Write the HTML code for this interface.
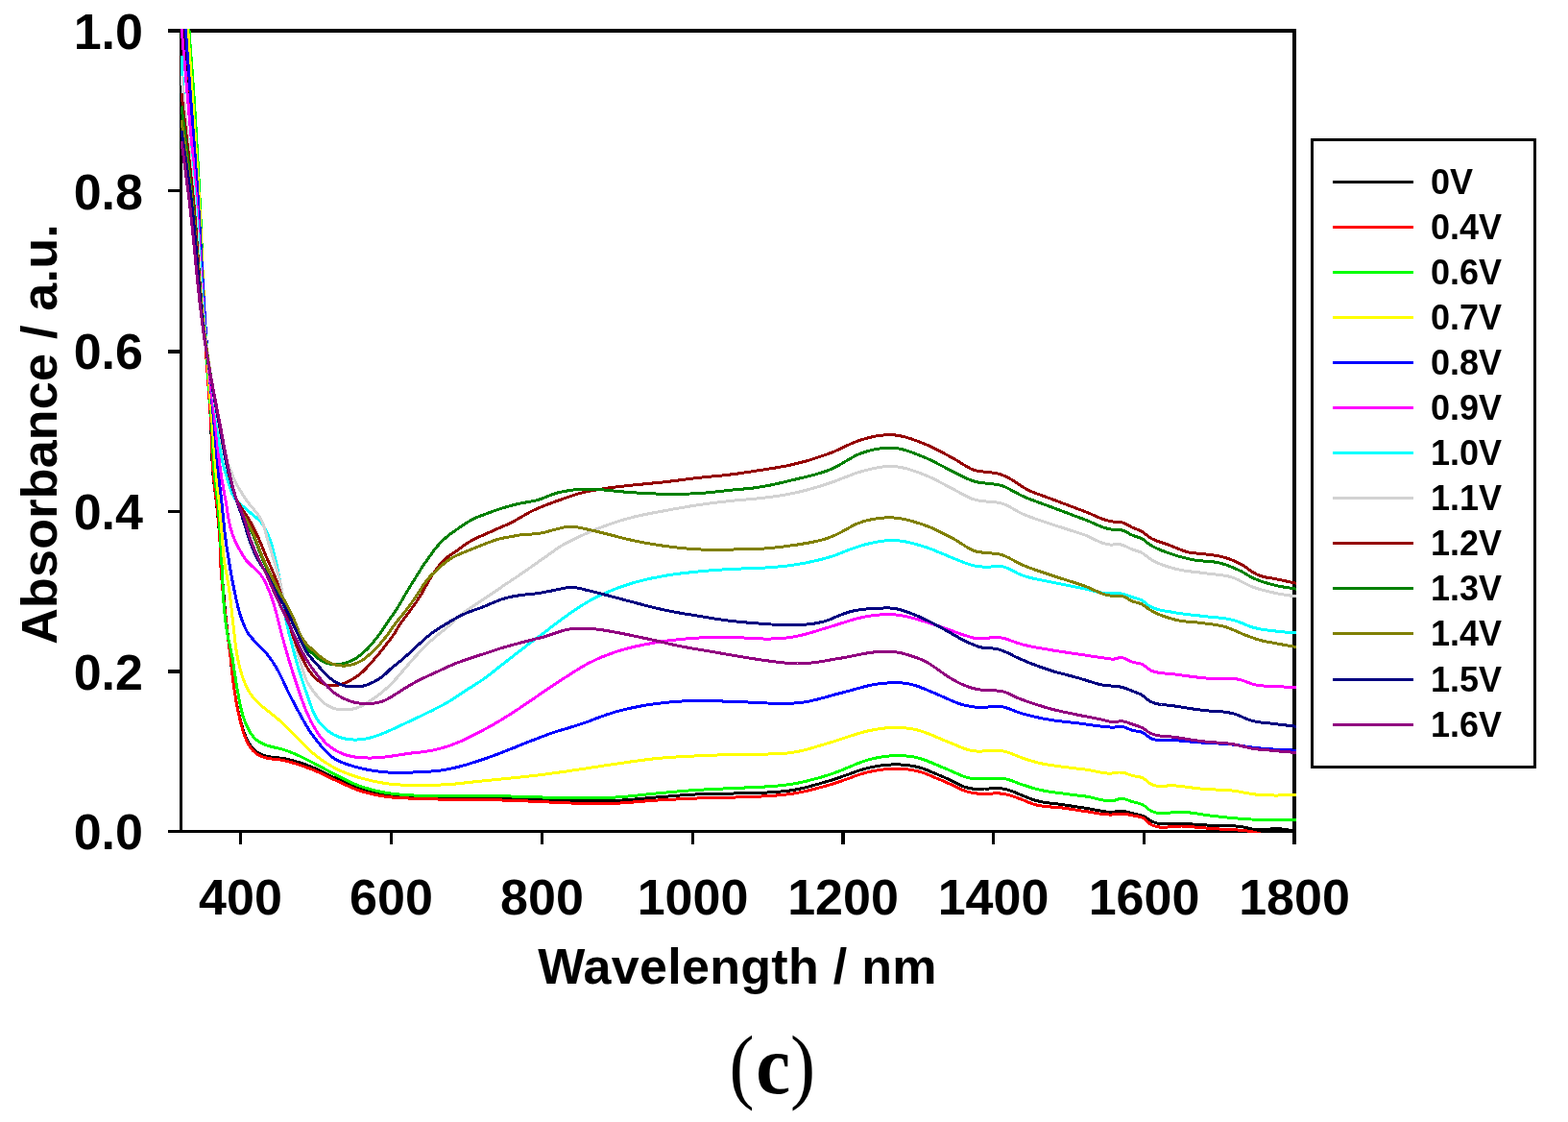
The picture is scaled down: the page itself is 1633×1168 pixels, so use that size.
<!DOCTYPE html>
<html><head><meta charset="utf-8"><title>Absorbance spectra (c)</title>
<style>
html,body{margin:0;padding:0;background:#fff;}
body{width:1633px;height:1168px;overflow:hidden;position:relative;}
svg{position:absolute;left:0;top:0;display:block;}
.t{font-family:"Liberation Sans",Arial,sans-serif;font-weight:bold;fill:#000;}
</style></head>
<body>
<svg width="1633" height="1168" viewBox="0 0 1633 1168">
<defs><clipPath id="pc"><rect x="187" y="30" width="1163" height="837"/></clipPath></defs>
<g fill="#000" shape-rendering="crispEdges">
<rect x="175" y="30" width="1175" height="4"/>
<rect x="175" y="864" width="1175" height="3"/>
<rect x="187" y="30" width="3" height="837"/>
<rect x="1346" y="30" width="4" height="849"/>
<rect x="175" y="197" width="13" height="3"/>
<rect x="175" y="364" width="13" height="4"/>
<rect x="175" y="531" width="13" height="3"/>
<rect x="175" y="697" width="13" height="4"/>
<rect x="249" y="866" width="3" height="13"/>
<rect x="406" y="866" width="3" height="13"/>
<rect x="563" y="866" width="3" height="13"/>
<rect x="720" y="866" width="3" height="13"/>
<rect x="876" y="866" width="4" height="13"/>
<rect x="1033" y="866" width="3" height="13"/>
<rect x="1190" y="866" width="3" height="13"/>
</g>
<g clip-path="url(#pc)" fill="none" stroke-width="3" stroke-linejoin="round" stroke-linecap="butt" shape-rendering="crispEdges">
<path d="M190.2 12.0 190.5 16.0 190.8 20.0 191.0 24.0 191.3 28.0 191.6 32.0 191.9 36.0 192.2 40.0 192.4 44.0 192.7 48.0 193.0 52.0 193.2 56.0 193.5 60.0 193.8 64.0 194.1 68.0 194.3 72.0 194.6 76.0 194.9 80.0 195.2 84.0 195.5 88.0 195.8 92.0 196.1 96.0 196.4 100.0 196.8 104.0 197.1 108.0 197.4 112.0 197.8 116.0 198.1 120.0 198.5 124.0 198.8 128.0 199.2 132.0 199.5 136.0 199.9 140.0 200.2 144.0 200.6 148.0 201.0 152.0 201.3 156.0 201.7 160.0 202.0 164.0 202.4 168.0 202.7 172.0 203.1 176.0 203.4 180.0 203.7 184.0 204.1 188.0 204.4 192.0 204.7 196.0 205.0 200.0 205.3 204.0 205.6 208.0 205.9 212.0 206.2 216.0 206.4 220.0 206.7 224.0 207.0 228.0 207.2 232.0 207.5 236.0 207.7 240.0 208.0 244.0 208.2 248.0 208.5 252.0 208.7 256.0 209.0 260.0 209.2 264.0 209.4 268.0 209.7 272.0 209.9 276.0 210.1 280.0 210.4 284.0 210.6 288.0 210.8 292.0 211.0 296.0 211.2 300.0 211.5 304.0 211.7 308.0 211.9 312.0 212.1 316.0 212.4 320.0 212.6 324.0 212.8 328.0 213.0 332.0 213.2 336.0 213.5 340.0 213.7 344.0 213.9 348.0 214.2 352.0 214.4 356.0 214.6 360.0 214.9 364.0 215.1 368.0 215.4 372.0 215.6 376.0 215.9 380.0 216.1 384.0 216.4 388.0 216.6 392.0 216.9 396.0 217.1 400.0 217.4 404.0 217.6 408.0 217.9 412.0 218.1 416.0 218.3 420.0 218.6 424.0 218.8 428.0 219.1 432.0 219.3 436.0 219.5 440.0 219.7 444.0 219.9 448.0 220.0 452.0 220.2 456.0 220.3 460.0 220.4 464.0 220.6 468.0 220.7 472.0 220.8 476.0 221.0 480.0 221.2 484.0 221.5 488.0 221.8 492.0 222.1 496.0 222.5 500.0 223.0 504.0 223.5 508.0 224.0 512.0 224.5 516.0 225.0 520.0 225.5 524.0 225.9 528.0 226.3 532.0 226.7 536.0 227.1 540.0 227.5 544.0 227.8 548.0 228.2 552.0 228.5 556.0 228.8 560.0 229.1 564.0 229.3 568.0 229.5 572.0 229.8 576.0 230.0 580.0 230.3 584.0 230.5 588.0 230.8 592.0 231.1 596.0 231.4 600.0 231.7 603.9 232.0 607.9 232.4 611.9 232.7 615.9 233.1 619.9 233.4 623.9 233.8 627.9 234.1 631.9 234.5 635.8 234.9 639.8 235.3 643.8 235.7 647.8 236.2 651.8 236.6 655.7 237.1 659.7 237.5 663.7 238.0 667.8 238.5 671.9 239.0 675.9 239.5 680.0 240.0 684.1 240.4 688.2 240.8 692.2 241.3 696.3 241.7 700.4 242.2 704.5 242.7 708.5 243.2 712.6 243.8 716.6 244.4 720.7 245.1 724.8 245.8 728.8 246.5 732.9 247.3 737.0 248.2 741.0 249.1 745.0 250.1 749.0 251.2 753.0 252.4 757.0 253.6 760.9 255.1 764.8 256.7 768.6 258.5 772.2 260.7 775.7 263.1 778.9 266.7 782.2 270.2 784.4 274.2 786.2 278.1 787.4 282.0 788.1 286.0 788.5 290.1 788.9 294.2 789.4 298.3 790.1 302.4 791.1 306.5 792.2 310.5 793.4 314.4 794.6 318.2 795.9 322.0 797.4 325.8 798.9 329.5 800.5 333.1 802.1 336.7 803.9 340.3 805.6 343.9 807.4 347.5 809.2 351.1 810.9 354.8 812.6 358.6 814.4 362.3 816.0 366.1 817.7 369.9 819.2 373.7 820.6 377.5 821.8 381.3 823.0 385.2 824.0 389.2 825.0 393.1 825.8 397.0 826.6 401.0 827.2 405.0 827.8 409.1 828.2 413.1 828.5 417.2 828.8 421.3 829.0 425.4 829.2 429.5 829.4 433.5 829.6 437.6 829.7 441.7 829.9 445.7 830.0 449.8 830.1 453.9 830.2 458.0 830.3 462.0 830.3 466.1 830.4 470.2 830.5 474.3 830.5 478.4 830.6 482.5 830.6 486.6 830.7 490.7 830.7 494.8 830.8 498.9 830.9 502.9 830.9 507.0 831.0 511.0 831.1 515.1 831.1 519.2 831.2 523.2 831.3 527.3 831.3 531.3 831.4 535.4 831.5 539.5 831.6 543.5 831.7 547.6 831.8 551.6 831.9 555.7 832.0 559.7 832.1 563.7 832.3 567.7 832.4 571.8 832.6 575.8 832.7 579.8 832.8 583.9 833.0 587.9 833.1 591.9 833.2 596.0 833.3 600.0 833.4 604.0 833.5 608.0 833.5 612.1 833.6 616.1 833.6 620.1 833.7 624.1 833.7 628.1 833.7 632.2 833.6 636.2 833.6 640.2 833.4 644.2 833.3 648.2 833.0 652.2 832.8 656.2 832.4 660.2 832.1 664.3 831.7 668.3 831.4 672.3 831.0 676.3 830.6 680.3 830.3 684.3 829.9 688.3 829.6 692.3 829.3 696.3 829.0 700.3 828.6 704.3 828.3 708.4 828.0 712.4 827.7 716.4 827.5 720.4 827.2 724.4 827.0 728.4 826.8 732.4 826.7 736.4 826.6 740.4 826.5 744.4 826.4 748.5 826.3 752.5 826.3 756.5 826.2 760.5 826.1 764.5 826.0 768.5 825.9 772.6 825.9 776.7 825.8 780.7 825.7 784.8 825.6 788.8 825.5 792.9 825.3 796.9 825.1 801.0 824.9 805.2 824.6 809.3 824.3 813.5 824.0 817.7 823.6 821.8 823.1 825.8 822.5 829.7 821.8 833.6 821.0 837.5 820.1 841.4 819.1 845.3 818.1 849.2 817.0 853.1 815.9 856.9 814.8 860.8 813.7 864.6 812.6 868.5 811.4 872.3 810.1 876.0 808.8 879.8 807.4 883.6 806.1 887.4 804.7 891.2 803.3 895.0 802.0 899.7 800.6 904.5 799.4 909.4 798.3 913.4 797.6 917.5 797.0 921.6 796.5 925.7 796.1 929.8 795.9 933.9 795.9 938.0 796.0 942.1 796.2 946.2 796.7 950.2 797.3 954.1 798.1 958.9 799.4 962.7 800.6 966.5 802.1 970.2 803.6 974.0 805.2 977.7 806.8 981.4 808.3 985.1 810.0 988.8 811.7 992.5 813.5 996.2 815.4 999.9 817.1 1003.5 818.8 1008.3 820.3 1013.2 821.1 1017.3 821.2 1021.5 821.1 1025.7 821.0 1029.9 821.0 1034.1 820.8 1038.3 820.7 1042.5 820.8 1046.6 821.4 1051.4 822.7 1055.1 824.1 1058.9 825.7 1062.6 827.3 1066.4 828.7 1070.1 830.3 1073.8 831.7 1077.6 833.0 1081.6 834.0 1085.6 834.9 1089.6 835.5 1093.7 836.1 1097.8 836.6 1101.9 837.0 1106.0 837.6 1110.0 838.2 1114.1 838.8 1118.1 839.4 1122.2 840.0 1126.2 840.6 1130.3 841.2 1134.3 841.8 1138.3 842.6 1142.3 843.4 1146.2 844.1 1150.2 844.8 1154.2 845.2 1159.2 845.2 1163.7 844.6 1168.1 844.1 1172.1 844.7 1176.0 845.8 1180.0 846.9 1184.3 847.8 1188.5 848.8 1192.3 850.4 1195.8 852.6 1199.3 854.9 1203.0 856.5 1207.8 857.6 1211.8 857.9 1216.0 857.9 1220.2 857.7 1224.4 857.5 1228.6 857.3 1232.7 857.4 1236.8 857.7 1240.9 857.9 1244.9 858.2 1249.0 858.5 1253.1 858.8 1257.2 859.0 1261.2 859.3 1265.3 859.6 1269.4 859.7 1273.5 859.7 1277.6 859.7 1281.7 859.8 1285.8 859.9 1289.9 860.2 1293.9 860.7 1298.0 861.6 1302.2 862.7 1306.4 863.7 1311.4 864.0 1315.4 863.8 1319.5 863.4 1323.5 863.0 1327.6 862.7 1331.6 862.8 1335.7 863.1 1339.8 863.7 1343.9 864.3 1347.9 864.9 1352.0 865.5" stroke="#000000"/>
<path d="M192.2 12.0 192.5 16.0 192.8 20.0 193.1 24.0 193.3 28.0 193.6 32.0 193.9 36.0 194.1 40.0 194.4 44.0 194.7 48.0 195.0 52.0 195.2 56.0 195.5 60.0 195.8 64.0 196.0 68.0 196.3 72.0 196.6 76.0 196.8 80.0 197.1 84.0 197.4 88.0 197.7 92.0 198.0 96.0 198.2 100.0 198.5 104.0 198.8 108.0 199.1 112.0 199.4 116.0 199.7 120.0 200.0 124.0 200.3 128.0 200.6 132.0 200.9 136.0 201.2 140.0 201.5 144.0 201.8 148.0 202.1 152.0 202.4 156.0 202.7 160.0 203.0 164.0 203.3 168.0 203.6 172.0 203.9 176.0 204.1 180.0 204.4 184.0 204.7 188.0 205.0 192.0 205.2 196.0 205.5 200.0 205.8 204.0 206.0 208.0 206.3 212.0 206.5 216.0 206.7 220.0 207.0 224.0 207.2 228.0 207.4 232.0 207.6 236.0 207.8 240.0 208.1 244.0 208.3 248.0 208.5 252.0 208.7 256.0 208.9 260.0 209.1 264.0 209.3 268.0 209.5 272.0 209.7 276.0 209.9 280.0 210.1 284.0 210.3 288.0 210.5 292.0 210.7 296.0 210.8 300.0 211.0 304.0 211.2 308.0 211.5 312.0 211.7 316.0 211.9 320.0 212.1 324.0 212.3 328.0 212.5 332.0 212.7 336.0 212.9 340.0 213.2 344.0 213.4 348.0 213.6 352.0 213.9 356.0 214.1 360.0 214.4 364.0 214.6 368.0 214.9 372.0 215.2 376.0 215.4 380.0 215.7 384.0 216.0 388.0 216.3 392.0 216.6 396.0 216.9 400.0 217.2 404.0 217.4 408.0 217.7 412.0 218.0 416.0 218.3 420.0 218.6 424.0 218.8 428.0 219.1 432.0 219.4 436.0 219.6 440.0 219.8 444.0 220.0 448.0 220.2 452.0 220.4 456.0 220.5 460.0 220.7 464.0 220.8 468.0 221.0 472.0 221.1 476.0 221.3 480.0 221.5 484.0 221.8 488.0 222.1 492.0 222.4 496.0 222.8 500.0 223.2 504.0 223.7 508.0 224.2 512.0 224.7 516.0 225.2 520.0 225.6 524.0 226.1 528.0 226.5 532.0 226.9 536.0 227.3 540.0 227.7 544.0 228.0 548.0 228.3 552.0 228.6 556.0 228.8 560.0 229.0 564.0 229.1 568.0 229.2 572.0 229.3 576.0 229.4 580.0 229.6 584.0 229.8 588.0 230.1 592.0 230.3 596.0 230.6 600.0 231.0 604.0 231.3 608.0 231.7 611.9 232.1 615.9 232.5 619.9 232.9 623.9 233.3 627.9 233.8 631.9 234.2 635.8 234.7 639.8 235.2 643.8 235.6 647.8 236.1 651.8 236.6 655.7 237.0 659.7 237.5 663.7 238.0 667.8 238.5 671.9 239.0 675.9 239.5 680.0 240.0 684.1 240.4 688.1 240.9 692.2 241.3 696.3 241.7 700.4 242.2 704.5 242.7 708.5 243.2 712.6 243.8 716.7 244.4 720.7 245.1 724.7 245.7 728.6 246.4 732.6 247.1 736.6 247.9 740.5 248.8 744.4 249.7 748.3 250.7 752.2 251.7 756.1 252.8 760.2 254.1 764.2 255.5 768.0 257.1 771.7 259.0 775.3 261.3 778.7 263.8 781.7 267.5 784.8 271.1 786.8 275.1 788.4 279.1 789.4 283.0 790.0 287.1 790.5 291.1 790.9 295.2 791.6 299.3 792.5 303.4 793.7 307.5 794.9 311.5 796.2 315.3 797.4 319.1 798.8 322.9 800.2 326.7 801.7 330.5 803.3 334.3 805.0 338.0 806.8 341.8 808.6 345.5 810.4 349.3 812.2 353.0 813.9 356.7 815.6 360.4 817.3 364.2 819.0 368.0 820.6 371.8 822.1 375.6 823.4 379.4 824.6 383.3 825.6 387.2 826.6 391.1 827.4 395.1 828.2 399.0 828.8 403.0 829.4 407.1 829.9 411.1 830.2 415.2 830.5 419.3 830.7 423.4 830.9 427.4 831.1 431.5 831.3 435.6 831.5 439.6 831.6 443.7 831.7 447.8 831.9 451.9 831.9 455.9 832.0 460.0 832.1 464.1 832.1 468.2 832.2 472.3 832.2 476.4 832.2 480.5 832.2 484.6 832.2 488.7 832.2 492.8 832.2 496.8 832.2 500.9 832.3 505.0 832.4 509.0 832.5 513.1 832.6 517.1 832.8 521.2 832.9 525.2 833.1 529.3 833.2 533.4 833.4 537.4 833.5 541.5 833.7 545.5 833.8 549.6 834.0 553.6 834.2 557.7 834.4 561.7 834.5 565.8 834.7 569.8 834.9 573.8 835.1 577.9 835.3 581.9 835.5 586.0 835.7 590.0 835.9 594.0 836.0 598.1 836.1 602.1 836.2 606.1 836.3 610.1 836.4 614.1 836.4 618.1 836.5 622.2 836.5 626.2 836.5 630.2 836.4 634.2 836.4 638.2 836.3 642.2 836.2 646.2 836.0 650.2 835.7 654.2 835.5 658.2 835.1 662.3 834.8 666.3 834.5 670.3 834.1 674.3 833.8 678.3 833.5 682.3 833.2 686.3 832.9 690.3 832.7 694.3 832.5 698.3 832.3 702.3 832.1 706.4 831.9 710.4 831.7 714.4 831.5 718.4 831.3 722.4 831.2 726.4 831.0 730.4 830.9 734.4 830.8 738.4 830.7 742.4 830.6 746.5 830.5 750.5 830.4 754.5 830.3 758.5 830.2 762.5 830.1 766.5 830.0 770.6 829.8 774.6 829.7 778.7 829.6 782.8 829.4 786.8 829.3 790.9 829.1 794.9 828.9 798.9 828.7 803.1 828.4 807.3 828.1 811.4 827.8 815.6 827.4 819.7 826.9 823.8 826.4 827.8 825.8 831.8 825.0 835.9 824.2 839.8 823.4 843.8 822.4 847.8 821.4 851.8 820.4 855.7 819.3 859.7 818.2 863.7 817.1 867.5 816.0 871.3 814.8 875.1 813.5 878.9 812.1 882.7 810.8 886.4 809.4 890.2 808.0 894.0 806.7 898.8 805.2 903.5 803.9 908.4 802.8 912.4 802.1 916.5 801.4 920.6 800.9 924.7 800.5 928.8 800.3 932.9 800.2 937.0 800.2 941.1 800.5 945.2 800.9 949.2 801.4 953.1 802.2 957.9 803.4 961.7 804.6 965.5 806.0 969.3 807.5 973.0 809.1 976.8 810.7 980.5 812.2 984.2 813.8 987.9 815.5 991.6 817.2 995.3 819.0 999.0 820.7 1002.6 822.4 1006.4 823.8 1011.2 825.1 1015.6 825.8 1020.0 826.3 1024.1 826.5 1028.2 826.4 1032.3 826.1 1036.4 825.9 1040.5 825.9 1044.5 826.3 1048.6 827.1 1052.6 828.2 1056.6 829.5 1060.6 831.0 1064.5 832.4 1068.2 833.9 1071.9 835.5 1075.7 836.9 1079.6 838.0 1083.6 838.8 1087.6 839.3 1091.7 839.8 1095.7 840.1 1099.8 840.4 1103.9 840.7 1108.0 841.2 1112.0 841.8 1116.1 842.4 1120.1 843.0 1124.2 843.7 1128.3 844.3 1132.3 844.8 1136.3 845.5 1140.3 846.2 1144.2 846.9 1148.2 847.5 1152.2 847.9 1157.2 848.1 1161.4 847.7 1165.9 847.0 1170.1 847.0 1174.1 847.6 1178.0 848.6 1182.1 849.4 1186.5 850.2 1190.5 851.6 1194.0 854.2 1197.3 857.3 1200.7 859.4 1205.4 860.8 1209.4 861.2 1213.6 861.2 1217.8 860.9 1222.1 860.5 1226.4 860.1 1230.6 860.0 1234.7 860.2 1238.8 860.5 1242.9 860.9 1247.0 861.2 1251.1 861.6 1255.1 861.9 1259.2 862.3 1263.3 862.6 1267.4 862.9 1271.5 863.1 1275.6 863.3 1279.7 863.5 1283.8 863.6 1287.9 863.9 1292.0 864.2 1296.0 864.6 1300.1 865.1 1304.1 865.9 1308.1 866.8 1312.0 867.7 1316.0 868.7 1320.0 869.5 1324.0 870.1 1327.9 870.7 1331.9 871.1 1336.0 871.5 1340.0 871.9 1344.0 872.2 1348.0 872.6 1352.0 873.0" stroke="#ff0000"/>
<path d="M195.5 12.0 195.8 16.0 196.1 20.0 196.4 24.0 196.7 28.0 197.0 32.0 197.3 36.0 197.6 40.0 197.9 44.0 198.2 48.0 198.5 52.0 198.8 56.0 199.1 60.0 199.4 64.0 199.7 68.0 200.0 72.0 200.3 76.0 200.6 80.0 200.9 84.0 201.2 88.0 201.5 92.0 201.7 96.0 202.0 100.0 202.3 104.0 202.5 108.0 202.8 112.0 203.0 116.0 203.3 120.0 203.5 124.0 203.8 128.0 204.0 132.0 204.2 136.0 204.5 140.0 204.7 144.0 204.9 148.0 205.1 152.0 205.4 156.0 205.6 160.0 205.8 164.0 206.0 168.0 206.2 172.0 206.4 176.0 206.6 180.0 206.9 184.0 207.1 188.0 207.3 192.0 207.5 196.0 207.7 200.0 207.9 204.0 208.1 208.0 208.3 212.0 208.5 216.0 208.7 220.0 208.8 224.0 209.0 228.0 209.2 232.0 209.3 236.0 209.5 240.0 209.7 244.0 209.8 248.0 210.0 252.0 210.1 256.0 210.3 260.0 210.4 264.0 210.6 268.0 210.7 272.0 210.9 276.0 211.0 280.0 211.1 284.0 211.3 288.0 211.4 292.0 211.6 296.0 211.8 300.0 211.9 304.0 212.1 308.0 212.2 312.0 212.4 316.0 212.6 320.0 212.8 324.0 212.9 328.0 213.1 332.0 213.3 336.0 213.5 340.0 213.7 344.0 213.9 348.0 214.2 352.0 214.4 356.0 214.6 360.0 214.9 364.0 215.1 368.0 215.4 372.0 215.7 376.0 216.0 380.0 216.2 384.0 216.5 388.0 216.8 392.0 217.1 396.0 217.5 400.0 217.8 404.0 218.1 408.0 218.4 412.0 218.7 416.0 219.0 420.0 219.3 424.0 219.6 428.0 219.9 432.0 220.1 436.0 220.4 440.0 220.6 444.0 220.9 448.0 221.1 452.0 221.3 456.0 221.4 460.0 221.6 464.0 221.8 468.0 222.0 472.0 222.2 476.0 222.4 480.0 222.6 484.0 222.9 488.0 223.2 492.0 223.6 496.0 224.0 500.0 224.5 504.0 225.0 508.0 225.5 512.0 226.0 516.0 226.5 520.0 226.9 524.0 227.3 528.0 227.6 532.0 227.9 536.0 228.2 540.0 228.5 544.0 228.8 548.0 229.0 552.0 229.3 556.0 229.5 560.0 229.7 564.0 229.9 568.0 230.2 572.0 230.4 576.0 230.6 580.0 230.8 584.0 231.0 588.1 231.2 592.1 231.4 596.2 231.6 600.2 231.8 604.3 232.0 608.4 232.1 612.4 232.4 616.5 232.6 620.5 232.8 624.6 233.1 628.6 233.4 632.7 233.8 636.7 234.2 640.7 234.6 644.7 235.1 648.7 235.7 652.7 236.3 656.7 237.0 660.7 237.8 664.7 238.7 668.8 239.6 672.9 240.5 677.0 241.3 681.1 242.1 685.0 242.7 688.9 243.3 692.9 243.9 696.9 244.5 700.9 245.1 704.8 245.7 708.8 246.3 712.8 247.0 716.7 247.7 720.7 248.5 724.7 249.2 728.7 250.0 732.8 250.8 736.8 251.8 740.8 252.8 744.7 254.1 748.5 255.5 752.2 257.1 755.9 258.9 759.6 261.0 763.2 263.3 766.4 266.6 769.8 269.8 772.1 273.4 774.1 277.1 775.7 281.0 776.9 285.0 777.9 289.1 778.8 293.2 779.8 297.1 781.0 300.9 782.4 304.8 783.9 308.6 785.5 312.2 787.1 315.9 788.9 319.5 790.7 323.1 792.5 326.7 794.4 330.3 796.3 333.9 798.2 337.5 800.2 341.1 802.1 344.7 804.1 348.4 805.9 352.0 807.8 355.7 809.7 359.5 811.6 363.2 813.4 367.0 815.1 370.8 816.7 374.7 818.2 378.5 819.5 382.3 820.7 386.2 821.8 390.1 822.8 394.1 823.7 398.0 824.5 402.0 825.3 406.0 825.9 410.1 826.4 414.2 826.9 418.2 827.2 422.3 827.5 426.4 827.8 430.5 828.0 434.6 828.2 438.6 828.3 442.7 828.4 446.8 828.5 450.8 828.5 454.9 828.5 459.0 828.5 463.1 828.5 467.2 828.4 471.3 828.4 475.4 828.3 479.4 828.3 483.5 828.2 487.6 828.2 491.7 828.1 495.8 828.1 499.9 828.2 503.9 828.2 508.0 828.3 512.1 828.4 516.1 828.5 520.2 828.6 524.2 828.7 528.3 828.8 532.3 829.0 536.4 829.1 540.5 829.2 544.5 829.4 548.6 829.5 552.6 829.6 556.7 829.7 560.7 829.8 564.7 830.0 568.8 830.1 572.8 830.2 576.8 830.4 580.8 830.5 584.9 830.6 588.9 830.7 592.9 830.7 597.0 830.8 601.0 830.8 605.0 830.8 609.0 830.8 613.1 830.8 617.1 830.7 621.1 830.7 625.1 830.6 629.2 830.5 633.2 830.4 637.2 830.2 641.2 830.0 645.2 829.8 649.2 829.5 653.2 829.1 657.2 828.7 661.3 828.3 665.3 827.9 669.3 827.5 673.3 827.0 677.3 826.6 681.3 826.2 685.3 825.8 689.3 825.4 693.3 825.1 697.3 824.7 701.3 824.4 705.3 824.0 709.4 823.7 713.4 823.3 717.4 823.0 721.4 822.7 725.4 822.4 729.4 822.2 733.4 822.0 737.4 821.7 741.4 821.5 745.4 821.3 749.5 821.1 753.5 821.0 757.5 820.8 761.5 820.6 765.5 820.4 769.5 820.2 773.6 820.1 777.7 819.9 781.7 819.8 785.8 819.6 789.9 819.4 793.9 819.2 797.9 818.9 802.0 818.6 806.2 818.3 810.4 818.0 814.6 817.6 818.7 817.1 822.9 816.5 826.8 815.9 830.7 815.2 834.6 814.4 838.5 813.5 842.4 812.5 846.3 811.5 850.2 810.5 854.1 809.4 857.9 808.2 861.8 807.1 865.6 805.8 869.4 804.5 873.2 803.1 877.0 801.6 880.8 800.0 884.6 798.4 888.3 796.8 892.1 795.2 895.9 793.8 899.7 792.4 903.5 791.2 907.4 790.2 911.4 789.2 915.5 788.4 919.6 787.8 923.7 787.2 927.8 786.8 931.8 786.6 935.9 786.6 940.0 786.7 944.2 787.0 948.2 787.4 952.2 788.1 957.0 789.2 960.8 790.4 964.5 791.7 968.3 793.2 972.1 794.8 975.8 796.4 979.5 798.0 983.2 799.5 987.1 801.1 990.9 802.8 994.8 804.5 998.6 806.1 1002.4 807.8 1006.3 809.1 1010.2 810.0 1014.2 810.5 1018.2 810.7 1022.3 810.6 1026.3 810.4 1030.4 810.2 1034.5 810.1 1038.5 810.1 1042.5 810.1 1047.4 810.8 1052.2 812.2 1056.0 813.6 1059.8 815.1 1063.5 816.5 1067.4 817.7 1071.3 819.0 1075.3 820.2 1079.2 821.3 1083.2 822.3 1087.1 823.1 1091.0 823.8 1095.0 824.4 1099.0 825.0 1103.0 825.5 1107.0 826.0 1111.0 826.6 1115.1 827.1 1119.1 827.6 1123.2 828.1 1127.2 828.6 1131.3 829.1 1135.3 829.8 1139.3 830.8 1143.3 831.8 1147.3 832.7 1151.3 833.4 1156.2 833.7 1161.2 833.1 1165.1 831.8 1169.1 831.3 1173.1 832.2 1177.0 833.8 1181.1 835.1 1185.4 836.1 1189.5 837.4 1193.1 839.7 1196.4 842.6 1199.9 844.7 1204.6 846.1 1209.5 846.6 1213.7 846.4 1217.9 846.1 1222.2 845.6 1226.5 845.3 1230.6 845.2 1234.7 845.5 1238.8 845.9 1242.9 846.5 1247.0 847.0 1251.1 847.7 1255.1 848.3 1259.2 848.9 1263.3 849.4 1267.3 849.8 1271.3 850.3 1275.3 850.7 1279.3 851.1 1283.3 851.5 1287.3 851.9 1291.3 852.2 1295.4 852.5 1299.4 852.8 1303.4 853.0 1307.4 853.2 1311.5 853.4 1315.5 853.5 1319.6 853.6 1323.6 853.7 1327.7 853.7 1331.7 853.7 1335.8 853.7 1339.8 853.7 1343.9 853.7 1347.9 853.7 1352.0 853.7" stroke="#00ff00"/>
<path d="M194.4 12.0 194.7 16.0 195.0 20.0 195.3 24.0 195.5 28.0 195.8 32.0 196.1 36.0 196.3 40.0 196.6 44.0 196.9 48.0 197.2 52.0 197.4 56.0 197.7 60.0 198.0 64.0 198.2 68.0 198.5 72.0 198.8 76.0 199.1 80.0 199.3 84.0 199.6 88.0 199.9 92.0 200.1 96.0 200.4 100.0 200.7 104.0 201.0 108.0 201.2 112.0 201.5 116.0 201.8 120.0 202.0 124.0 202.3 128.0 202.6 132.0 202.9 136.0 203.1 140.0 203.4 144.0 203.7 148.0 203.9 152.0 204.2 156.0 204.5 160.0 204.7 164.0 205.0 168.0 205.3 172.0 205.5 176.0 205.8 180.0 206.0 184.0 206.3 188.0 206.5 192.0 206.8 196.0 207.0 200.0 207.2 204.0 207.5 208.0 207.7 212.0 207.9 216.0 208.1 220.0 208.3 224.0 208.5 228.0 208.7 232.0 208.9 236.0 209.1 240.0 209.3 244.0 209.5 248.0 209.7 252.0 209.9 256.0 210.1 260.0 210.2 264.0 210.4 268.0 210.6 272.0 210.8 276.0 211.0 280.0 211.1 284.0 211.3 288.0 211.5 292.0 211.7 296.0 211.9 300.0 212.1 304.0 212.3 308.0 212.4 312.0 212.6 316.0 212.8 320.0 213.0 324.0 213.3 328.0 213.5 332.0 213.7 336.0 213.9 340.0 214.1 344.0 214.4 348.0 214.6 352.0 214.9 356.0 215.1 360.0 215.4 364.0 215.6 368.0 215.9 372.0 216.2 376.0 216.5 380.0 216.8 384.0 217.0 388.0 217.3 392.0 217.6 396.0 217.9 400.0 218.2 404.0 218.5 408.0 218.8 412.0 219.1 416.0 219.5 420.0 219.8 424.0 220.1 428.0 220.4 432.0 220.7 436.0 221.0 440.0 221.3 444.0 221.6 448.0 221.9 452.0 222.2 456.0 222.5 460.0 222.8 464.0 223.1 468.0 223.4 472.0 223.7 476.0 224.0 480.0 224.3 484.0 224.7 488.0 225.0 492.0 225.4 496.0 225.8 500.0 226.2 504.0 226.7 508.0 227.1 512.0 227.6 516.0 228.0 520.0 228.4 524.0 228.8 528.0 229.1 532.0 229.5 536.0 229.8 540.0 230.1 544.0 230.4 548.0 230.8 552.0 231.1 556.0 231.4 560.0 231.7 564.0 232.0 568.0 232.3 572.0 232.6 576.0 233.0 580.0 233.5 584.1 234.2 588.1 234.9 592.2 235.6 596.2 236.4 600.3 237.1 604.3 237.8 608.4 238.4 612.4 239.0 616.4 239.5 620.5 240.0 624.5 240.5 628.6 241.0 632.6 241.4 636.7 241.8 640.7 242.3 644.8 242.7 648.9 243.2 652.9 243.6 657.0 244.1 661.0 244.6 665.0 245.0 669.0 245.5 673.0 246.1 677.0 246.7 681.0 247.5 684.9 248.3 688.9 249.2 692.8 250.2 696.7 251.3 700.5 252.5 704.3 253.9 708.3 255.5 712.3 257.3 716.1 259.2 719.7 261.4 723.1 263.9 726.3 266.5 729.3 270.1 732.7 273.1 735.4 276.2 737.9 279.4 740.5 282.7 743.1 286.0 745.7 289.2 748.3 292.4 751.0 295.4 753.7 298.3 756.5 301.1 759.3 303.9 762.1 306.7 765.0 309.4 767.9 312.4 770.9 315.3 773.9 318.3 776.9 321.3 779.8 324.3 782.7 327.5 785.3 330.6 787.8 333.8 790.2 337.2 792.6 340.6 794.8 344.1 796.9 347.6 798.9 351.1 800.8 354.8 802.5 358.5 804.1 362.3 805.6 366.1 806.9 370.0 808.2 373.9 809.4 377.8 810.5 381.7 811.5 385.7 812.5 389.7 813.4 393.8 814.2 397.8 814.9 401.9 815.5 406.0 816.1 410.1 816.5 414.2 816.8 418.3 817.1 422.4 817.2 426.5 817.2 430.7 817.2 434.8 817.2 439.0 817.1 443.1 817.1 447.1 817.1 451.2 817.1 455.2 817.1 459.3 817.0 463.3 816.8 467.4 816.6 471.5 816.3 475.5 815.9 479.6 815.5 483.6 815.0 487.7 814.5 491.8 814.1 495.8 813.6 499.9 813.2 503.9 812.8 508.0 812.4 512.1 812.0 516.1 811.6 520.2 811.2 524.2 810.8 528.3 810.4 532.4 810.0 536.4 809.6 540.5 809.2 544.5 808.7 548.6 808.3 552.6 807.8 556.7 807.4 560.8 806.9 564.8 806.4 568.9 805.9 573.0 805.3 577.0 804.8 581.0 804.2 585.0 803.7 589.1 803.1 593.1 802.5 597.1 801.9 601.1 801.3 605.1 800.7 609.1 800.1 613.1 799.5 617.1 798.9 621.1 798.3 625.2 797.6 629.2 797.0 633.2 796.4 637.2 795.8 641.2 795.2 645.2 794.7 649.2 794.1 653.2 793.5 657.2 792.9 661.2 792.4 665.2 791.8 669.2 791.3 673.3 790.8 677.3 790.3 681.3 789.8 685.3 789.4 689.3 789.1 693.3 788.7 697.3 788.4 701.3 788.2 705.3 787.9 709.3 787.7 713.4 787.5 717.4 787.3 721.4 787.1 725.4 786.9 729.4 786.7 733.4 786.5 737.4 786.3 741.4 786.2 745.4 786.1 749.5 785.9 753.5 785.8 757.5 785.7 761.5 785.6 765.5 785.5 769.5 785.4 773.6 785.4 777.7 785.3 781.7 785.3 785.8 785.3 789.9 785.2 793.9 785.2 797.9 785.1 802.0 784.9 806.2 784.8 810.4 784.6 814.6 784.4 818.7 784.1 822.8 783.7 826.8 783.1 830.7 782.4 834.6 781.6 838.5 780.6 842.4 779.6 846.3 778.5 850.1 777.3 854.0 776.2 857.9 775.0 861.7 773.8 865.6 772.7 869.5 771.5 873.4 770.3 877.2 769.0 881.1 767.7 885.0 766.4 888.8 765.2 892.7 763.9 896.6 762.8 900.5 761.7 904.4 760.8 908.4 760.0 912.4 759.3 916.5 758.6 920.6 758.1 924.7 757.7 928.8 757.5 932.9 757.4 937.0 757.4 941.1 757.7 945.2 758.1 949.2 758.6 953.1 759.4 957.9 760.6 961.7 761.9 965.5 763.3 969.3 764.8 973.0 766.3 976.8 767.9 980.5 769.5 984.2 771.0 988.0 772.6 991.9 774.2 995.7 775.8 999.6 777.4 1003.4 779.0 1007.3 780.3 1011.2 781.3 1015.2 781.9 1019.2 782.1 1023.3 782.0 1027.4 781.8 1031.6 781.5 1035.7 781.3 1039.7 781.3 1043.8 781.7 1048.6 782.8 1053.3 784.5 1057.0 786.0 1060.7 787.6 1064.5 789.0 1068.4 790.3 1072.3 791.5 1076.2 792.7 1080.2 793.8 1084.1 794.7 1088.1 795.5 1092.0 796.1 1096.0 796.7 1100.0 797.3 1104.0 797.8 1108.0 798.4 1112.0 798.9 1116.1 799.4 1120.1 799.9 1124.2 800.3 1128.3 800.8 1132.3 801.3 1136.4 802.1 1140.5 802.9 1144.6 803.8 1148.7 804.5 1152.8 805.0 1156.9 805.1 1161.0 804.7 1165.1 804.0 1169.1 804.1 1173.1 805.2 1177.0 806.7 1181.1 807.8 1185.4 808.5 1189.5 809.5 1193.1 811.8 1196.4 814.7 1199.9 816.9 1204.6 818.1 1208.6 818.3 1212.8 818.2 1217.0 817.9 1221.1 817.8 1225.2 818.0 1229.3 818.4 1233.4 818.9 1237.4 819.4 1241.5 820.0 1245.6 820.5 1249.6 821.0 1253.7 821.4 1257.8 821.7 1261.9 821.9 1265.9 822.0 1270.0 822.2 1274.1 822.3 1278.2 822.5 1282.3 822.9 1286.3 823.3 1290.3 824.0 1294.3 824.8 1298.4 825.6 1302.4 826.3 1306.4 826.9 1310.4 827.3 1314.5 827.6 1318.5 827.8 1322.5 827.9 1326.6 828.0 1330.7 828.0 1334.7 827.9 1338.8 827.9 1342.9 827.8 1346.9 827.8 1351.0 827.9 1352.0 827.9" stroke="#ffff00"/>
<path d="M191.9 12.0 192.2 16.0 192.5 20.0 192.8 24.0 193.1 28.0 193.4 32.0 193.7 36.0 194.0 40.0 194.3 44.0 194.6 48.0 194.9 52.0 195.2 56.0 195.5 60.0 195.8 64.0 196.1 68.0 196.4 72.0 196.7 76.0 197.0 80.0 197.3 84.0 197.6 88.0 197.9 92.0 198.2 96.0 198.5 100.0 198.8 104.0 199.1 108.0 199.4 112.0 199.7 116.0 200.0 120.0 200.3 124.0 200.6 128.0 200.9 132.0 201.2 136.0 201.5 140.0 201.8 144.0 202.1 148.0 202.4 152.0 202.7 156.0 203.0 160.0 203.3 164.0 203.5 168.0 203.8 172.0 204.1 176.0 204.4 180.0 204.7 184.0 205.0 188.0 205.2 192.0 205.5 196.0 205.8 200.0 206.1 204.0 206.3 208.0 206.6 212.0 206.8 216.0 207.1 220.0 207.3 224.0 207.6 228.0 207.8 232.0 208.0 236.0 208.3 240.0 208.5 244.0 208.7 248.0 208.9 252.0 209.2 256.0 209.4 260.0 209.6 264.0 209.8 268.0 210.0 272.0 210.2 276.0 210.4 280.0 210.7 284.0 210.9 288.0 211.1 292.0 211.3 296.0 211.6 300.0 211.8 304.0 212.0 308.0 212.3 312.0 212.5 316.0 212.7 320.0 213.0 324.0 213.2 328.0 213.5 332.0 213.8 336.0 214.0 340.0 214.3 344.0 214.6 348.0 214.9 352.0 215.2 356.0 215.5 360.0 215.8 364.0 216.2 368.0 216.5 372.0 216.9 376.0 217.2 380.0 217.6 384.0 217.9 388.0 218.3 392.0 218.7 396.0 219.0 400.0 219.4 404.0 219.8 408.0 220.2 412.0 220.6 416.0 220.9 420.0 221.3 424.0 221.7 428.0 222.1 432.0 222.4 436.0 222.8 440.0 223.2 444.0 223.5 448.0 223.8 452.0 224.2 456.0 224.5 460.0 224.8 464.0 225.2 468.0 225.5 472.0 225.9 476.0 226.2 480.0 226.6 484.0 227.0 488.0 227.3 492.0 227.8 496.0 228.2 500.0 228.7 504.0 229.1 508.0 229.6 512.0 230.1 516.0 230.6 520.0 231.0 524.0 231.5 528.0 231.8 532.0 232.2 536.0 232.6 540.0 233.0 544.0 233.4 548.0 233.8 552.0 234.3 556.0 234.8 560.0 235.4 564.0 235.9 568.0 236.5 572.0 237.2 576.0 237.8 580.0 238.5 584.1 239.1 588.1 239.8 592.2 240.5 596.2 241.2 600.3 242.0 604.4 242.8 608.4 243.6 612.4 244.4 616.4 245.3 620.3 246.1 624.3 247.0 628.2 247.9 632.1 249.0 636.0 250.1 639.8 251.4 643.6 252.8 647.5 254.4 651.6 256.2 655.5 258.3 659.2 260.7 662.4 263.3 665.4 266.1 668.4 269.0 671.3 271.9 674.2 274.7 677.1 277.4 680.1 280.0 683.3 282.4 686.6 284.7 690.1 286.9 693.6 288.9 697.1 290.9 700.7 292.8 704.4 294.6 708.2 296.3 711.9 298.0 715.7 299.8 719.5 301.6 723.2 303.5 726.9 305.4 730.6 307.3 734.3 309.3 738.0 311.3 741.6 313.3 745.2 315.2 748.7 317.2 752.1 319.2 755.6 321.8 759.8 324.0 763.2 326.4 766.5 328.8 769.7 331.3 772.9 333.8 775.9 336.6 779.1 339.5 782.3 342.5 785.3 345.6 787.9 348.9 790.2 352.5 792.2 356.4 793.8 360.4 795.3 364.5 796.6 368.4 797.8 372.2 798.8 376.1 799.8 380.1 800.7 384.0 801.5 388.0 802.2 392.0 802.8 396.0 803.3 400.0 803.7 404.0 804.0 408.1 804.2 412.2 804.3 416.2 804.4 420.3 804.3 424.4 804.2 428.5 804.1 432.5 803.9 436.5 803.8 440.5 803.6 444.5 803.3 448.5 803.1 452.5 802.7 456.5 802.3 460.5 801.8 465.4 801.0 469.3 800.2 473.3 799.3 477.2 798.4 481.2 797.3 485.1 796.2 489.0 795.0 492.9 793.8 496.7 792.6 500.5 791.3 504.3 790.1 508.1 788.7 511.9 787.4 515.6 786.0 519.4 784.6 523.1 783.2 526.9 781.7 530.7 780.2 534.5 778.7 538.3 777.2 542.0 775.6 545.8 774.1 549.6 772.6 553.4 771.1 557.1 769.7 560.9 768.2 564.7 766.8 568.5 765.4 572.2 764.0 576.1 762.7 579.9 761.4 583.7 760.2 587.6 759.1 591.5 758.0 595.3 756.8 599.2 755.7 603.0 754.4 606.8 753.1 610.7 751.8 614.5 750.4 618.3 748.9 622.1 747.5 625.9 746.1 629.7 744.7 633.5 743.4 637.4 742.2 641.2 741.0 645.2 740.0 649.1 739.0 653.1 738.0 657.1 737.1 661.1 736.3 665.1 735.5 669.2 734.7 673.2 734.0 677.2 733.4 681.3 732.8 685.3 732.3 689.4 731.8 693.5 731.3 697.7 730.9 701.8 730.6 705.8 730.3 709.9 730.0 713.9 729.9 717.9 729.7 722.0 729.6 726.0 729.6 730.1 729.6 734.1 729.6 738.2 729.7 742.2 729.7 746.3 729.8 750.3 729.9 754.4 730.1 758.4 730.2 762.5 730.3 766.5 730.5 770.6 730.6 774.6 730.8 778.7 731.0 782.8 731.3 786.8 731.5 790.9 731.7 794.9 731.8 799.0 732.0 803.0 732.1 807.1 732.2 811.2 732.2 815.3 732.3 819.4 732.3 823.4 732.2 827.5 732.0 831.5 731.7 835.5 731.2 840.4 730.5 845.2 729.5 849.1 728.6 853.0 727.6 856.9 726.6 860.8 725.5 864.7 724.4 868.5 723.3 872.4 722.3 876.3 721.3 880.2 720.3 884.2 719.2 888.2 718.1 892.2 717.0 896.1 715.9 900.1 714.9 904.1 713.9 908.1 713.0 912.1 712.3 916.1 711.7 920.1 711.3 924.2 711.0 928.4 710.8 932.6 710.7 936.8 710.8 940.9 711.1 945.0 711.6 948.9 712.4 952.7 713.4 956.5 714.7 960.3 716.2 964.1 717.7 967.9 719.3 971.7 720.9 975.4 722.5 979.2 724.1 982.9 725.8 986.6 727.5 990.4 729.1 994.2 730.7 998.0 732.1 1001.8 733.5 1005.7 734.4 1009.8 735.2 1013.8 735.9 1017.9 736.3 1022.1 736.6 1026.2 736.3 1030.4 735.8 1034.6 735.3 1038.7 735.1 1042.8 735.4 1047.6 736.6 1051.4 738.0 1055.1 739.5 1058.9 741.0 1062.7 742.3 1066.7 743.4 1070.7 744.5 1074.6 745.5 1078.7 746.4 1082.7 747.3 1086.7 748.1 1090.8 748.8 1094.8 749.5 1098.8 750.1 1102.8 750.6 1106.8 751.1 1110.8 751.6 1114.9 752.0 1118.9 752.4 1122.9 752.9 1126.9 753.5 1130.9 754.0 1134.9 754.6 1138.9 755.1 1143.0 755.6 1147.0 756.1 1151.0 756.5 1155.4 757.0 1159.7 757.2 1163.9 756.4 1168.0 756.1 1172.0 757.2 1176.0 759.0 1180.0 760.5 1184.3 761.2 1188.5 761.9 1192.2 763.7 1195.4 766.5 1198.8 768.8 1203.4 770.2 1207.5 770.6 1211.6 770.6 1215.9 770.4 1220.1 770.4 1224.1 770.7 1228.2 771.0 1232.3 771.4 1236.4 771.8 1240.4 772.1 1244.5 772.5 1248.6 772.8 1252.7 773.1 1256.7 773.4 1260.8 773.6 1264.9 773.8 1268.9 774.0 1273.0 774.2 1277.0 774.5 1281.1 774.8 1285.1 775.2 1289.2 775.8 1293.2 776.4 1297.3 777.1 1301.3 777.7 1305.4 778.3 1309.4 778.7 1313.5 779.1 1317.5 779.4 1321.6 779.7 1325.6 780.0 1329.7 780.2 1333.7 780.4 1337.8 780.6 1341.9 780.7 1345.9 781.0 1350.0 781.2 1352.0 781.3" stroke="#0000ff"/>
<path d="M187.6 12.0 187.9 16.0 188.2 20.0 188.6 24.0 188.9 28.0 189.3 32.0 189.7 36.0 190.0 40.0 190.3 44.0 190.7 48.0 191.0 52.0 191.4 56.0 191.8 60.0 192.1 64.0 192.4 68.0 192.8 72.0 193.2 76.0 193.5 80.0 193.8 84.0 194.2 88.0 194.6 92.0 194.9 96.0 195.3 100.0 195.6 104.0 196.0 108.0 196.3 112.0 196.7 116.0 197.0 120.0 197.4 124.0 197.8 128.0 198.1 132.0 198.5 136.0 198.8 140.0 199.2 144.0 199.6 148.0 199.9 152.0 200.3 156.0 200.6 160.0 201.0 164.0 201.3 168.0 201.7 172.0 202.0 176.0 202.3 180.0 202.7 184.0 203.0 188.0 203.4 192.0 203.7 196.0 204.0 200.0 204.3 204.0 204.6 208.0 204.9 212.0 205.2 216.0 205.5 220.0 205.8 224.0 206.0 228.0 206.3 232.0 206.5 236.0 206.8 240.0 207.0 244.0 207.3 248.0 207.5 252.0 207.8 256.0 208.0 260.0 208.2 264.0 208.5 268.0 208.7 272.0 208.9 276.0 209.2 280.0 209.4 284.0 209.6 288.0 209.9 292.0 210.1 296.1 210.4 300.1 210.6 304.1 210.9 308.1 211.1 312.1 211.4 316.1 211.7 320.1 211.9 324.1 212.2 328.1 212.5 332.1 212.8 336.1 213.2 340.1 213.5 344.0 213.8 348.0 214.2 352.0 214.5 356.0 214.9 360.0 215.3 364.0 215.7 368.0 216.1 372.0 216.5 376.0 217.0 380.0 217.4 384.0 217.9 388.0 218.3 392.0 218.8 396.0 219.2 400.0 219.7 404.0 220.2 408.0 220.7 412.0 221.1 416.0 221.6 420.0 222.1 424.0 222.6 428.0 223.1 432.0 223.5 436.0 224.0 440.0 224.5 444.0 224.9 448.0 225.3 452.0 225.8 456.0 226.2 460.0 226.6 464.0 227.0 468.0 227.5 472.1 227.9 476.1 228.4 480.1 228.9 484.1 229.4 488.1 230.0 492.0 230.6 496.0 231.2 500.0 231.9 504.0 232.6 508.0 233.3 512.0 234.0 516.0 234.8 520.0 235.5 524.0 236.2 528.1 236.8 532.2 237.4 536.3 238.1 540.3 238.8 544.4 239.7 548.4 240.9 552.3 242.1 556.1 243.5 559.9 245.2 563.7 247.1 567.6 249.1 571.3 251.2 575.1 253.4 579.0 255.8 582.6 258.6 585.7 261.7 588.7 265.0 591.5 268.1 594.5 271.0 597.6 273.4 601.0 275.5 604.7 277.4 608.6 279.1 612.4 280.6 616.2 282.2 620.1 283.5 623.9 284.8 627.7 285.9 631.5 287.0 635.4 288.1 639.4 289.1 643.3 290.0 647.2 291.0 651.2 292.0 655.1 293.0 659.0 294.1 663.0 295.2 666.9 296.3 670.9 297.4 674.9 298.5 678.9 299.7 682.9 300.8 686.8 302.0 690.7 303.2 694.5 304.4 698.4 305.6 702.2 306.8 706.0 308.1 709.9 309.4 713.7 310.6 717.5 311.9 721.3 313.2 725.1 314.6 728.9 316.0 732.6 317.4 736.4 318.9 740.1 320.6 743.8 322.3 747.5 324.0 751.2 325.9 754.8 327.9 758.3 330.1 761.7 332.4 765.2 334.8 768.4 337.4 771.5 340.2 774.4 343.4 777.1 346.8 779.5 350.4 781.7 354.1 783.5 357.9 785.1 361.9 786.4 365.9 787.4 370.0 788.1 374.1 788.6 378.3 788.9 382.5 789.0 386.7 789.0 390.9 788.8 395.1 788.5 399.3 788.2 403.4 787.7 407.4 787.2 411.4 786.5 415.4 785.9 419.5 785.3 423.5 784.7 427.6 784.1 431.7 783.7 435.8 783.2 439.9 782.8 443.9 782.2 447.9 781.6 452.0 780.8 456.2 779.8 460.3 778.7 464.4 777.5 468.4 776.2 473.0 774.5 476.7 773.0 480.4 771.4 484.0 769.7 487.6 768.0 491.2 766.2 494.8 764.4 498.4 762.6 502.0 760.7 505.5 758.8 509.1 756.8 512.6 754.9 516.1 752.9 519.6 750.8 523.0 748.8 526.5 746.6 530.0 744.4 533.4 742.2 536.9 740.0 540.3 737.8 543.7 735.5 547.0 733.2 550.4 730.9 553.9 728.5 557.3 726.2 560.8 723.8 564.3 721.4 567.7 719.0 571.0 716.8 574.4 714.5 577.7 712.3 581.1 710.1 584.5 707.9 587.9 705.7 591.3 703.5 594.8 701.3 598.3 699.1 601.8 696.9 605.4 694.7 609.0 692.6 612.6 690.6 616.3 688.8 620.0 687.0 623.7 685.3 627.5 683.7 631.4 682.2 635.2 680.8 639.1 679.4 642.9 678.1 646.7 676.9 650.6 675.8 654.5 674.7 658.5 673.8 662.4 672.8 666.4 672.0 670.4 671.2 674.3 670.4 678.3 669.7 682.3 669.0 686.3 668.3 690.3 667.7 694.3 667.2 698.3 666.6 702.3 666.2 706.3 665.7 710.3 665.3 714.3 665.0 718.4 664.6 722.4 664.4 726.4 664.1 730.4 663.9 734.4 663.8 738.4 663.6 742.4 663.5 746.4 663.5 750.5 663.5 754.5 663.5 758.5 663.5 762.5 663.6 766.5 663.7 770.6 663.8 774.6 664.0 778.7 664.3 782.8 664.5 786.8 664.7 790.9 664.9 794.9 665.0 798.9 665.0 803.1 665.0 807.3 664.8 811.4 664.6 815.6 664.3 819.8 663.9 823.8 663.3 827.8 662.7 831.7 661.9 835.6 661.0 839.5 660.0 843.4 658.9 847.2 657.8 851.1 656.6 855.0 655.4 858.8 654.2 862.7 653.1 866.6 651.9 870.4 650.7 874.3 649.4 878.2 648.2 882.1 646.9 886.0 645.7 889.9 644.6 893.8 643.6 897.7 642.7 901.7 641.9 905.6 641.2 909.7 640.6 913.7 640.2 917.8 639.8 921.8 639.6 925.8 639.6 929.7 639.7 933.9 640.1 938.1 640.7 942.3 641.5 946.4 642.3 950.4 643.3 954.2 644.3 958.1 645.5 961.9 646.7 965.7 647.9 969.6 649.1 973.5 650.4 977.4 651.7 981.2 653.0 985.1 654.3 989.0 655.7 992.8 657.2 996.7 658.6 1000.6 660.0 1004.5 661.3 1008.6 662.6 1012.6 663.8 1016.7 664.7 1021.7 664.9 1025.7 664.6 1029.8 664.1 1033.8 663.6 1037.8 663.4 1042.8 663.9 1046.8 664.8 1050.8 666.1 1054.8 667.6 1058.7 669.0 1062.7 670.3 1066.7 671.4 1070.7 672.3 1074.7 673.1 1078.7 673.9 1082.7 674.6 1086.7 675.3 1090.8 676.0 1094.8 676.7 1098.8 677.4 1102.8 678.0 1106.8 678.6 1110.9 679.2 1114.9 679.8 1118.9 680.4 1122.9 681.0 1126.9 681.6 1130.9 682.2 1134.9 682.8 1138.9 683.4 1143.0 684.0 1147.0 684.6 1151.0 685.1 1155.4 685.9 1159.7 686.2 1163.9 685.1 1168.0 684.4 1172.0 685.7 1176.0 687.8 1180.0 689.5 1184.5 690.2 1188.8 691.2 1192.5 693.5 1195.9 696.3 1199.5 698.4 1203.4 699.6 1207.4 700.4 1211.6 700.9 1215.8 701.2 1220.0 701.5 1224.2 702.0 1228.2 702.6 1232.1 703.2 1236.1 703.7 1240.1 704.2 1244.1 704.7 1248.0 705.2 1252.0 705.6 1256.0 706.0 1260.0 706.3 1264.0 706.5 1268.1 706.6 1272.2 706.5 1276.3 706.4 1280.4 706.4 1284.4 706.6 1288.4 707.0 1292.4 707.9 1296.3 709.1 1300.2 710.6 1304.1 712.0 1308.1 713.0 1312.1 713.6 1316.1 714.0 1320.2 714.2 1324.3 714.3 1328.3 714.6 1332.4 714.8 1336.6 715.0 1340.7 715.1 1344.8 715.2 1348.9 715.4 1352.0 715.5" stroke="#ff00ff"/>
<path d="M189.0 58.0 189.2 62.0 189.4 66.0 189.6 70.0 189.8 74.0 189.9 78.0 190.2 82.0 190.4 86.0 190.6 90.0 190.9 94.0 191.2 98.0 191.5 102.0 191.9 106.0 192.3 110.0 192.6 114.0 193.1 118.1 193.5 122.1 193.9 126.1 194.4 130.0 194.8 134.0 195.3 138.0 195.8 142.0 196.3 146.0 196.7 150.0 197.2 154.0 197.7 158.0 198.2 162.0 198.7 166.0 199.2 170.0 199.7 174.0 200.1 178.0 200.6 182.0 201.0 186.0 201.5 190.0 201.9 194.0 202.3 198.0 202.7 202.0 203.1 206.0 203.4 210.0 203.8 214.0 204.1 218.0 204.4 222.0 204.8 226.0 205.1 230.0 205.4 234.0 205.7 238.0 206.0 242.0 206.2 246.0 206.5 250.0 206.8 254.0 207.1 258.0 207.3 262.0 207.6 266.0 207.9 270.0 208.1 274.0 208.4 278.1 208.7 282.1 208.9 286.1 209.2 290.1 209.5 294.1 209.8 298.1 210.1 302.1 210.3 306.1 210.6 310.1 211.0 314.1 211.3 318.1 211.6 322.1 211.9 326.1 212.3 330.1 212.6 334.1 213.0 338.1 213.4 342.1 213.8 346.1 214.2 350.1 214.6 354.0 215.1 358.0 215.5 362.0 216.0 366.0 216.5 370.0 217.0 374.0 217.6 378.0 218.1 382.0 218.7 386.0 219.2 390.0 219.8 394.0 220.4 398.0 221.0 402.0 221.6 406.0 222.2 410.0 222.8 414.0 223.4 418.0 223.9 422.0 224.5 426.0 225.1 430.0 225.6 434.0 226.1 438.0 226.6 442.0 227.1 446.0 227.5 450.0 227.9 454.0 228.3 458.1 228.7 462.1 229.2 466.1 229.7 470.1 230.4 474.0 231.2 478.0 232.1 482.1 233.1 486.1 234.2 490.1 235.3 494.1 236.6 498.0 237.8 502.0 239.0 506.0 240.3 510.0 241.8 513.8 243.7 517.3 245.9 520.5 248.8 523.6 252.0 526.4 255.1 528.9 258.3 531.6 261.7 534.6 265.2 537.5 268.7 540.4 272.0 543.8 274.3 547.0 276.3 550.5 278.1 554.3 279.7 558.2 281.1 561.9 282.5 565.9 283.7 569.9 284.8 573.9 285.8 578.0 286.8 582.0 287.7 586.0 288.5 590.0 289.3 594.0 290.1 598.0 290.9 602.0 291.6 606.0 292.3 610.0 293.0 614.0 293.6 618.0 294.3 622.0 294.9 626.1 295.4 630.1 296.0 634.2 296.6 638.2 297.2 642.3 298.0 646.2 298.8 650.3 299.8 654.4 300.8 658.6 301.9 662.6 302.9 666.6 303.9 670.6 304.9 674.6 306.0 678.5 307.0 682.5 308.1 686.5 309.3 690.5 310.4 694.4 311.6 698.2 312.8 702.0 314.0 705.9 315.3 709.7 316.5 713.5 317.8 717.3 319.2 721.1 320.5 724.9 321.8 728.7 323.1 732.6 324.5 736.6 326.0 740.4 327.7 744.0 329.6 747.5 331.9 750.9 334.5 754.2 337.2 757.1 340.2 759.8 343.7 762.4 347.5 764.7 351.4 766.6 356.1 768.2 359.9 769.1 363.9 769.7 367.8 770.0 372.0 770.0 376.3 769.7 380.5 769.1 384.6 768.3 388.5 767.2 392.5 765.9 396.5 764.4 400.4 762.8 404.1 761.2 407.8 759.6 411.5 757.9 415.2 756.2 418.9 754.5 422.6 752.7 426.3 751.0 429.9 749.3 433.6 747.6 437.3 745.8 440.9 744.1 444.5 742.3 448.2 740.5 451.8 738.7 455.5 736.8 459.2 734.9 462.9 733.0 466.5 730.9 470.0 728.8 473.4 726.6 476.8 724.3 480.3 722.0 483.7 719.7 487.1 717.5 490.5 715.4 493.9 713.3 497.3 711.1 500.6 709.0 503.9 706.7 507.1 704.3 510.3 701.9 513.5 699.4 516.6 696.9 519.8 694.4 522.9 692.0 526.1 689.5 529.3 687.0 532.5 684.5 535.6 682.0 538.8 679.6 542.0 677.1 545.2 674.7 548.4 672.2 551.7 669.7 555.0 667.2 558.3 664.8 561.6 662.3 564.9 659.9 568.2 657.4 571.5 654.9 574.7 652.4 578.0 649.9 581.3 647.4 584.6 645.0 588.0 642.5 591.3 640.1 594.7 637.8 598.0 635.5 601.4 633.2 604.8 630.9 608.3 628.8 611.8 626.7 615.3 624.7 618.9 622.8 622.5 621.0 626.1 619.3 629.8 617.7 633.5 616.1 637.2 614.6 640.9 613.1 644.8 611.6 648.7 610.2 652.6 608.9 656.6 607.6 660.5 606.5 664.3 605.4 668.2 604.4 672.1 603.5 676.0 602.6 679.9 601.7 683.8 601.0 687.8 600.2 691.7 599.5 695.7 598.8 699.7 598.2 703.8 597.6 707.8 597.1 711.8 596.6 715.9 596.2 719.9 595.7 724.0 595.3 728.0 594.9 732.0 594.5 736.0 594.2 740.1 593.8 744.1 593.5 748.1 593.2 752.1 593.0 756.1 592.7 760.2 592.5 764.3 592.3 768.4 592.1 772.5 592.0 776.6 591.9 780.7 591.8 784.9 591.6 789.0 591.4 793.1 591.2 797.2 591.0 801.3 590.7 805.4 590.4 809.5 590.1 813.6 589.7 817.7 589.3 821.8 588.8 825.8 588.2 829.8 587.6 833.9 586.9 837.9 586.2 841.9 585.4 845.9 584.5 849.8 583.6 853.8 582.7 857.8 581.7 861.7 580.6 865.6 579.4 869.4 578.2 873.2 576.8 876.9 575.3 880.7 573.8 884.4 572.3 888.2 570.9 892.0 569.6 895.8 568.4 899.6 567.2 903.6 566.2 907.6 565.3 911.7 564.4 915.7 563.6 919.8 563.1 923.8 562.7 927.8 562.5 931.8 562.6 935.8 562.9 939.8 563.4 943.9 564.1 948.0 565.0 952.0 566.0 956.0 567.1 960.0 568.3 963.8 569.5 967.6 570.8 971.4 572.2 975.2 573.8 978.9 575.3 982.7 576.9 986.5 578.5 990.2 580.1 994.0 581.6 997.8 583.1 1001.7 584.7 1005.6 586.2 1009.5 587.6 1013.4 588.7 1017.5 589.4 1021.6 589.9 1025.8 590.2 1030.0 590.2 1034.0 589.8 1038.0 589.3 1042.9 589.5 1047.6 590.8 1051.4 592.5 1055.0 594.3 1058.7 596.3 1062.4 598.1 1066.2 599.5 1070.1 600.6 1074.0 601.6 1078.0 602.6 1082.0 603.4 1086.0 604.2 1090.0 605.0 1094.0 605.8 1098.0 606.6 1102.0 607.4 1106.0 608.2 1110.0 609.0 1113.9 609.8 1117.9 610.6 1121.9 611.4 1125.9 612.2 1129.9 613.0 1133.9 614.0 1137.9 615.0 1141.9 616.0 1145.9 616.8 1150.0 617.4 1154.1 617.6 1158.3 617.4 1162.4 617.3 1166.5 617.7 1170.4 618.6 1174.2 619.9 1178.1 621.3 1182.0 622.5 1186.0 623.5 1189.7 625.1 1192.9 627.5 1196.0 630.1 1200.4 632.6 1205.1 634.3 1209.0 635.2 1213.0 636.0 1217.1 636.6 1221.2 637.3 1225.2 638.0 1229.2 638.7 1233.3 639.2 1237.3 639.7 1241.4 640.2 1245.5 640.6 1249.5 641.0 1253.6 641.5 1257.7 642.0 1261.8 642.3 1265.9 642.7 1270.0 643.1 1274.1 643.6 1278.1 644.2 1282.1 645.0 1286.0 646.0 1289.9 647.3 1293.7 648.8 1297.5 650.4 1301.3 651.9 1305.2 653.2 1309.1 654.2 1313.1 655.0 1317.1 655.6 1321.2 656.2 1325.3 656.7 1329.4 657.1 1333.5 657.6 1337.6 658.0 1341.7 658.3 1345.8 658.7 1349.9 659.0 1352.0 659.2" stroke="#00ffff"/>
<path d="M189.0 79.0 189.4 83.0 189.8 87.0 190.3 91.0 190.7 95.0 191.1 99.0 191.5 103.0 192.0 107.0 192.4 111.0 192.8 115.0 193.3 119.0 193.7 123.0 194.1 127.0 194.6 131.0 195.0 135.0 195.4 139.0 195.8 143.0 196.3 147.0 196.7 151.0 197.1 155.0 197.5 159.0 198.0 163.0 198.4 167.0 198.8 171.0 199.2 175.0 199.6 179.0 200.0 183.0 200.4 187.0 200.8 191.0 201.2 195.0 201.6 199.0 202.0 203.0 202.4 207.0 202.7 211.0 203.1 215.0 203.4 219.0 203.7 223.0 204.1 227.0 204.4 231.0 204.7 235.0 205.0 239.0 205.3 243.0 205.6 247.0 205.8 251.0 206.1 255.0 206.4 259.1 206.7 263.1 207.0 267.1 207.3 271.1 207.5 275.1 207.8 279.1 208.1 283.1 208.4 287.1 208.7 291.1 209.0 295.1 209.3 299.1 209.6 303.1 209.9 307.1 210.2 311.1 210.6 315.1 210.9 319.1 211.3 323.1 211.6 327.1 212.0 331.1 212.4 335.1 212.8 339.1 213.2 343.1 213.7 347.1 214.1 351.1 214.6 355.1 215.1 359.0 215.6 363.0 216.1 367.0 216.7 371.0 217.2 375.0 217.8 379.0 218.3 383.0 218.9 387.1 219.5 391.1 220.0 395.1 220.6 399.1 221.2 403.1 221.8 407.1 222.5 411.1 223.1 415.1 223.8 419.1 224.4 423.1 225.1 427.1 225.8 431.0 226.6 435.0 227.3 439.0 228.1 443.0 228.7 447.1 229.4 451.1 230.0 455.2 230.7 459.3 231.4 463.3 232.2 467.3 233.2 471.3 234.3 475.2 235.6 479.1 237.2 482.8 239.0 486.4 240.4 490.1 241.9 494.0 243.3 497.9 245.0 501.7 247.1 505.5 249.4 509.2 251.6 512.8 253.7 516.4 256.0 519.9 258.4 523.1 260.9 526.2 263.5 529.2 266.1 532.4 268.8 535.8 271.1 539.3 272.9 542.9 274.4 546.7 275.7 550.8 276.8 554.9 277.9 559.0 279.0 563.0 280.2 567.0 281.5 571.0 282.7 575.0 283.9 579.0 285.2 583.0 286.4 587.0 287.7 591.0 288.9 595.0 290.1 599.1 291.0 603.0 291.9 607.0 292.7 611.0 293.5 615.0 294.3 619.0 295.2 623.0 296.0 627.0 296.9 631.0 297.8 635.0 298.8 639.0 299.7 643.0 300.7 647.0 301.7 651.0 302.7 655.0 303.7 659.0 304.8 663.0 305.9 666.9 307.1 670.9 308.3 674.8 309.5 678.7 310.7 682.6 312.0 686.5 313.2 690.5 314.4 694.4 315.6 698.3 316.8 702.2 318.2 706.0 319.8 709.6 321.8 713.1 324.1 716.5 326.6 719.9 329.3 723.4 332.1 726.8 335.0 729.8 338.2 732.5 342.2 735.1 346.2 736.9 350.2 738.1 354.1 738.8 358.0 739.0 362.0 738.9 365.9 738.4 369.9 737.5 373.7 736.2 377.5 734.4 381.4 732.2 385.1 729.8 388.5 727.5 391.8 725.2 395.1 722.8 398.3 720.3 401.4 717.6 404.5 714.8 407.4 711.9 410.3 708.9 413.1 705.9 415.7 702.9 418.3 699.9 420.9 696.9 423.5 693.8 426.1 690.7 428.7 687.7 431.4 684.7 434.2 681.8 437.0 678.8 439.8 675.9 442.7 673.0 445.6 670.2 448.5 667.4 451.6 664.7 454.7 662.0 457.9 659.3 461.2 656.7 464.3 654.2 467.4 651.6 470.4 649.0 473.4 646.1 476.4 643.2 479.4 640.3 482.6 637.8 485.9 635.4 489.3 633.2 492.8 630.9 496.4 628.5 500.1 626.1 503.5 623.8 507.0 621.6 510.5 619.3 513.9 617.0 517.1 614.8 520.4 612.5 523.6 610.2 527.1 607.9 530.6 605.6 534.0 603.3 537.5 601.0 541.1 598.6 544.6 596.2 548.1 593.7 551.6 591.3 555.1 588.8 558.7 586.3 562.1 583.9 565.3 581.6 568.5 579.4 571.8 577.1 575.1 574.7 578.7 572.2 582.2 569.7 585.8 567.5 589.5 565.4 593.3 563.5 597.1 561.6 600.8 559.9 604.5 558.1 608.2 556.4 611.9 554.8 615.7 553.1 619.5 551.5 623.3 550.0 627.0 548.6 630.8 547.2 634.5 545.8 638.3 544.5 642.2 543.3 646.0 542.1 649.8 540.9 653.7 539.8 657.5 538.8 661.5 537.8 665.5 536.9 669.5 536.0 673.5 535.2 677.5 534.4 681.6 533.6 685.6 532.9 689.7 532.2 693.7 531.4 697.7 530.7 701.8 529.9 705.8 529.2 709.8 528.5 713.9 527.8 717.9 527.1 722.0 526.5 726.0 525.9 730.0 525.3 734.0 524.7 738.0 524.2 742.1 523.6 746.1 523.1 750.1 522.7 754.1 522.2 758.2 521.7 762.2 521.3 766.3 520.9 770.5 520.6 774.6 520.2 778.7 519.9 782.8 519.5 787.0 519.1 791.0 518.7 795.0 518.2 799.0 517.8 803.0 517.3 807.0 516.7 810.9 516.2 814.9 515.6 818.8 514.9 822.8 514.1 826.7 513.3 830.7 512.5 834.6 511.5 838.5 510.5 842.4 509.5 846.3 508.4 850.2 507.2 854.1 506.1 857.9 504.9 861.8 503.6 865.6 502.3 869.4 501.0 873.1 499.6 876.9 498.1 880.7 496.6 884.4 495.2 888.2 493.7 892.0 492.4 895.8 491.2 899.6 490.1 903.6 489.1 907.6 488.1 911.7 487.2 915.8 486.5 919.8 485.9 923.9 485.6 927.9 485.5 932.7 485.7 937.6 486.4 941.5 487.2 945.5 488.2 949.4 489.4 953.3 490.7 957.2 492.1 960.9 493.5 964.7 495.0 968.4 496.7 972.1 498.4 975.8 500.3 979.4 502.2 983.1 504.1 986.7 506.1 990.3 508.0 994.0 509.9 997.6 511.8 1001.3 513.8 1005.0 515.8 1008.7 517.7 1012.5 519.3 1016.4 520.5 1020.5 521.2 1024.7 521.8 1029.0 522.2 1033.0 522.5 1037.0 522.8 1041.0 523.4 1044.9 524.6 1048.7 526.2 1052.4 528.1 1056.0 530.2 1059.7 532.3 1063.4 534.2 1067.1 535.9 1070.9 537.4 1074.8 538.8 1078.6 540.2 1082.5 541.5 1086.3 542.8 1090.2 544.0 1094.1 545.3 1098.0 546.6 1101.8 547.9 1105.7 549.1 1109.5 550.4 1113.4 551.6 1117.3 552.8 1121.2 554.1 1125.0 555.3 1128.9 556.6 1132.7 558.2 1136.5 560.0 1140.3 561.8 1144.1 563.6 1147.9 565.2 1151.8 566.3 1156.7 567.1 1160.8 566.9 1164.9 566.4 1169.7 567.5 1173.4 569.2 1177.2 571.1 1181.0 572.6 1185.0 573.8 1188.8 575.2 1192.1 577.4 1195.3 580.0 1198.6 582.3 1202.1 584.3 1205.8 586.1 1209.6 587.6 1213.4 589.0 1217.3 590.2 1221.3 591.4 1225.2 592.5 1229.2 593.3 1233.2 594.1 1237.3 594.6 1241.3 595.1 1245.4 595.6 1249.5 596.0 1253.6 596.6 1257.7 597.1 1261.8 597.6 1265.9 598.0 1270.1 598.4 1274.1 599.0 1278.2 599.7 1282.1 600.7 1285.9 602.0 1289.6 603.7 1293.3 605.6 1296.9 607.5 1300.5 609.3 1304.3 610.9 1308.1 612.3 1312.1 613.5 1316.1 614.6 1320.2 615.6 1324.3 616.5 1328.3 617.4 1332.2 618.2 1336.2 618.9 1340.1 619.5 1344.1 620.1 1348.0 620.7 1352.0 621.3" stroke="#d2d2d2"/>
<path d="M189.0 97.0 189.5 101.0 189.9 105.0 190.4 109.0 190.8 113.0 191.3 117.0 191.8 121.0 192.2 125.0 192.7 129.0 193.2 133.0 193.6 137.0 194.1 141.0 194.6 145.0 195.0 149.0 195.5 153.0 196.0 157.0 196.4 161.0 196.9 165.0 197.3 169.0 197.8 173.0 198.2 177.0 198.7 181.0 199.1 185.0 199.5 189.0 200.0 193.0 200.4 197.0 200.8 201.0 201.2 205.0 201.6 209.0 202.0 213.0 202.3 217.0 202.7 221.0 203.0 225.0 203.4 229.0 203.7 233.0 204.0 237.0 204.3 241.0 204.6 245.0 204.9 249.0 205.2 253.0 205.5 257.1 205.7 261.1 206.0 265.1 206.3 269.1 206.6 273.1 206.9 277.1 207.1 281.1 207.4 285.1 207.7 289.1 208.0 293.1 208.3 297.1 208.6 301.1 209.0 305.1 209.3 309.2 209.6 313.2 210.0 317.2 210.3 321.2 210.7 325.1 211.1 329.1 211.5 333.1 211.9 337.1 212.3 341.1 212.8 345.1 213.3 349.1 213.8 353.1 214.3 357.1 214.8 361.0 215.4 365.0 215.9 369.0 216.5 372.9 217.1 376.9 217.7 380.8 218.4 384.8 219.0 388.7 219.6 392.7 220.3 396.6 221.0 400.6 221.6 404.5 222.3 408.5 223.0 412.4 223.7 416.4 224.4 420.3 225.1 424.3 225.8 428.2 226.5 432.1 227.3 436.1 228.0 440.0 228.7 443.9 229.4 447.9 230.1 451.9 230.8 455.8 231.5 459.8 232.2 463.7 232.9 467.7 233.6 471.6 234.4 475.6 235.1 479.5 235.9 483.5 236.8 487.4 237.7 491.3 238.7 495.2 239.7 499.0 240.8 503.0 241.9 507.1 243.1 511.2 244.4 515.2 246.0 519.0 247.7 522.6 249.7 526.1 251.8 529.5 254.0 532.9 256.4 536.5 258.8 540.1 260.9 543.6 262.9 547.1 264.8 550.8 266.6 554.4 268.3 558.2 270.0 561.9 271.6 565.7 273.2 569.5 274.7 573.3 276.2 577.1 277.9 580.9 279.5 584.7 281.3 588.6 283.0 592.4 284.6 596.2 286.3 600.1 287.7 603.8 289.2 607.6 290.5 611.5 291.8 615.3 293.1 619.2 294.4 623.1 295.5 627.0 296.6 630.9 297.7 634.8 298.6 638.8 299.6 642.8 300.6 646.7 301.6 650.6 302.8 654.5 304.0 658.4 305.3 662.4 306.7 666.3 308.1 670.3 309.7 674.1 311.3 677.9 313.1 681.5 314.8 685.1 316.6 688.6 318.4 692.2 320.9 696.5 323.4 700.2 326.1 703.5 329.0 706.5 332.2 709.1 336.3 711.6 340.3 713.2 344.2 713.8 348.0 713.8 351.9 713.3 355.9 712.2 359.7 710.7 363.6 708.9 367.3 706.9 370.8 704.6 374.2 702.2 377.4 699.6 380.3 696.7 383.0 693.8 385.7 690.8 388.4 687.8 391.1 684.7 393.9 681.4 396.7 678.0 399.3 674.8 401.8 671.6 404.2 668.4 406.7 665.2 409.1 661.9 411.4 658.5 413.5 654.9 415.7 651.3 418.0 647.8 420.6 644.4 423.1 641.0 425.6 637.7 428.0 634.4 430.4 631.1 432.8 627.8 435.2 624.2 437.5 620.6 439.7 617.0 441.7 613.2 443.8 609.5 445.8 606.0 447.9 602.5 450.0 599.1 452.3 595.5 454.7 592.1 457.3 588.8 460.0 585.6 463.0 582.6 466.1 579.9 469.6 577.4 473.2 575.0 476.7 572.6 479.9 570.3 483.1 567.9 486.7 565.4 490.7 563.0 494.6 561.0 498.3 559.2 502.2 557.5 506.0 555.8 509.9 554.1 513.7 552.3 517.6 550.6 521.5 548.9 525.3 547.3 529.0 545.7 532.7 543.9 536.3 542.0 539.9 540.0 543.4 537.9 547.0 535.8 550.5 533.8 554.2 531.9 557.8 530.2 561.6 528.5 565.4 527.0 569.2 525.5 573.0 524.1 576.8 522.7 580.7 521.3 584.9 519.8 589.0 518.3 593.1 516.9 597.1 515.6 601.1 514.3 605.0 513.2 609.0 512.3 613.0 511.4 617.1 510.7 621.2 509.9 625.2 509.3 629.2 508.6 633.2 508.0 637.3 507.5 641.3 507.0 645.4 506.5 649.4 506.1 653.5 505.7 657.5 505.2 661.5 504.8 665.5 504.4 669.6 504.0 673.6 503.6 677.6 503.2 681.6 502.8 685.7 502.4 689.7 502.0 693.7 501.6 697.7 501.1 701.8 500.6 705.8 500.1 709.8 499.6 713.9 499.0 717.9 498.5 722.0 498.0 726.0 497.5 730.0 497.1 734.0 496.7 738.1 496.3 742.1 495.9 746.1 495.6 750.1 495.2 754.2 494.8 758.2 494.3 762.2 493.8 766.2 493.3 770.2 492.8 774.1 492.2 778.1 491.6 782.1 491.0 786.0 490.3 790.0 489.7 794.0 489.1 798.0 488.5 802.0 487.9 806.0 487.3 809.9 486.6 813.9 485.9 817.9 485.2 821.8 484.4 825.7 483.5 829.7 482.5 833.6 481.5 837.6 480.5 841.5 479.4 845.4 478.2 849.3 477.0 853.1 475.7 857.0 474.4 860.8 473.1 864.6 471.7 868.4 470.2 872.2 468.5 876.0 466.8 879.7 465.0 883.5 463.2 887.2 461.5 891.0 460.0 894.8 458.6 898.7 457.3 902.6 456.2 906.6 455.2 910.6 454.3 914.7 453.6 918.8 453.1 922.9 452.7 926.8 452.6 931.7 452.9 936.6 453.6 940.6 454.4 944.5 455.5 948.4 456.7 952.4 458.1 956.2 459.5 960.0 461.0 963.8 462.5 967.5 464.1 971.2 465.8 974.9 467.7 978.6 469.5 982.2 471.5 985.9 473.4 989.5 475.4 993.1 477.4 996.6 479.4 1000.2 481.5 1003.6 483.8 1007.1 485.9 1010.7 487.8 1014.4 489.3 1018.4 490.3 1022.6 490.9 1026.8 491.3 1031.0 491.8 1035.0 492.3 1039.0 493.0 1043.0 494.2 1047.0 495.9 1050.8 497.8 1054.4 499.8 1057.9 502.0 1061.4 504.4 1064.8 506.7 1068.4 508.8 1072.0 510.7 1075.8 512.3 1079.6 513.8 1083.4 515.2 1087.3 516.6 1091.2 518.0 1095.1 519.4 1098.9 520.8 1102.6 522.2 1106.3 523.7 1110.1 525.1 1113.8 526.5 1117.6 527.9 1121.3 529.3 1125.1 530.7 1128.9 532.1 1132.7 533.6 1136.5 535.3 1140.3 537.0 1144.1 538.7 1147.9 540.2 1151.8 541.5 1155.7 542.5 1159.7 543.1 1163.9 543.2 1168.0 543.6 1171.8 545.0 1175.4 547.0 1179.1 549.1 1183.0 550.7 1186.9 552.2 1190.5 554.2 1193.7 556.7 1196.9 559.3 1200.4 561.2 1204.1 562.8 1208.0 564.2 1211.9 565.4 1215.8 566.7 1219.7 568.2 1223.5 569.8 1227.3 571.4 1231.1 572.9 1235.0 574.2 1238.9 575.2 1243.1 575.8 1247.3 576.1 1251.5 576.5 1255.6 577.0 1259.7 577.4 1263.7 578.0 1267.8 578.6 1271.8 579.4 1275.7 580.4 1279.7 581.7 1283.6 583.3 1287.5 585.0 1291.3 586.8 1294.9 588.8 1298.4 591.1 1301.8 593.6 1305.2 595.9 1308.8 597.9 1312.5 599.5 1317.3 600.8 1321.3 601.5 1325.3 602.1 1329.3 602.9 1333.2 603.7 1337.2 604.5 1341.1 605.3 1345.1 606.2 1349.0 607.0 1352.0 607.6" stroke="#940000"/>
<path d="M189.0 110.5 189.5 114.5 189.9 118.5 190.4 122.4 190.9 126.4 191.4 130.4 191.9 134.4 192.3 138.3 192.8 142.3 193.3 146.3 193.8 150.3 194.3 154.2 194.7 158.2 195.2 162.2 195.7 166.2 196.2 170.2 196.6 174.1 197.1 178.1 197.6 182.1 198.0 186.1 198.5 190.0 198.9 194.0 199.4 198.0 199.8 202.0 200.2 206.0 200.7 210.0 201.1 214.0 201.4 218.0 201.8 222.0 202.2 226.0 202.5 230.0 202.9 234.0 203.2 238.0 203.6 242.0 203.9 246.0 204.2 250.0 204.5 254.0 204.9 258.0 205.2 262.1 205.5 266.1 205.8 270.1 206.1 274.1 206.4 278.1 206.7 282.1 207.1 286.1 207.4 290.1 207.7 294.1 208.1 298.1 208.4 302.1 208.7 306.1 209.1 310.1 209.5 314.1 209.8 318.1 210.2 322.1 210.6 326.1 211.1 330.1 211.5 334.1 211.9 338.1 212.4 342.1 212.9 346.1 213.3 350.1 213.9 354.1 214.4 358.0 214.9 362.0 215.5 366.0 216.1 370.0 216.7 373.9 217.3 377.9 217.9 381.8 218.5 385.8 219.2 389.7 219.8 393.7 220.5 397.6 221.1 401.6 221.8 405.5 222.5 409.5 223.2 413.4 223.9 417.4 224.6 421.3 225.3 425.2 226.0 429.2 226.7 433.1 227.5 437.0 228.2 441.0 228.9 444.9 229.6 448.9 230.3 452.8 231.0 456.8 231.7 460.8 232.4 464.7 233.1 468.7 233.8 472.6 234.6 476.6 235.4 480.5 236.2 484.4 237.1 488.3 238.0 492.2 239.0 496.1 240.0 499.9 241.1 504.0 242.3 508.0 243.5 512.1 244.7 516.1 246.1 520.0 247.5 523.8 249.1 527.4 250.8 531.1 252.5 534.7 254.3 538.3 256.2 541.9 258.1 545.5 259.9 549.1 261.7 552.7 263.3 556.3 264.9 560.0 266.4 563.8 267.8 567.6 269.3 571.4 270.7 575.3 272.2 579.0 273.8 582.8 275.4 586.4 277.1 590.1 278.9 593.7 280.6 597.3 282.5 600.9 284.3 604.6 286.2 608.2 288.1 611.9 290.0 615.5 292.0 619.0 294.1 622.7 296.3 626.3 298.4 629.9 300.3 633.7 302.1 637.5 303.9 641.4 305.6 645.3 307.3 649.0 308.9 652.7 310.6 656.3 312.2 660.0 313.9 663.8 315.6 667.5 317.5 671.1 319.7 674.3 322.3 677.3 325.2 680.1 328.1 682.7 331.2 685.2 335.1 687.8 339.3 689.9 343.2 691.1 347.1 691.7 351.0 691.7 354.9 691.3 358.8 690.4 362.7 689.2 366.7 687.5 370.7 685.3 374.3 682.7 377.6 679.9 380.7 677.2 383.5 674.4 386.4 671.2 389.2 667.9 391.8 664.6 394.3 661.4 396.7 658.2 399.0 654.8 401.2 651.4 403.5 648.0 406.0 644.3 408.8 640.5 411.2 636.9 413.6 633.3 415.8 629.8 417.9 626.2 420.0 622.6 422.1 618.9 424.3 615.3 426.4 611.7 428.6 608.1 430.7 604.7 432.8 601.3 435.0 597.8 437.2 594.3 439.4 590.8 441.7 587.3 444.3 583.7 446.9 580.0 449.6 576.3 452.1 572.8 454.7 569.6 457.3 566.5 460.2 563.5 463.4 560.5 466.9 557.5 470.2 555.0 473.9 552.4 477.8 549.8 481.3 547.3 484.9 544.9 488.8 542.5 492.7 540.4 496.4 538.7 500.2 537.2 504.1 535.7 508.0 534.2 511.8 532.9 515.6 531.5 519.5 530.2 523.4 528.9 527.3 527.7 531.2 526.6 535.1 525.6 539.0 524.6 542.9 523.8 546.9 523.1 550.9 522.4 554.9 521.7 558.8 520.8 562.6 519.7 566.4 518.3 570.3 516.8 574.1 515.2 577.9 513.8 581.8 512.7 585.9 511.8 590.0 511.1 594.0 510.4 598.0 509.8 602.0 509.4 606.0 509.2 610.0 509.1 614.1 509.2 618.1 509.4 622.2 509.6 626.2 509.8 630.3 510.1 634.3 510.5 638.3 510.9 642.4 511.3 646.4 511.7 650.4 512.1 654.5 512.5 658.5 512.8 662.5 513.0 666.5 513.3 670.6 513.5 674.6 513.7 678.6 513.8 682.6 514.0 686.7 514.1 690.7 514.2 694.7 514.2 698.8 514.2 702.8 514.3 706.8 514.3 710.9 514.2 714.9 514.1 718.9 514.0 723.0 513.9 727.0 513.7 731.0 513.4 735.1 513.0 739.1 512.7 743.1 512.2 747.1 511.8 751.1 511.3 755.2 510.9 759.2 510.4 763.2 510.0 767.4 509.6 771.5 509.3 775.6 508.9 779.7 508.5 783.9 508.1 788.0 507.5 792.0 506.9 796.0 506.2 800.0 505.5 804.0 504.7 807.9 503.8 811.9 502.9 815.9 502.0 819.8 501.0 823.8 500.1 827.7 499.2 831.7 498.2 835.6 497.3 839.6 496.4 843.5 495.4 847.4 494.4 851.3 493.3 855.2 492.1 859.0 490.9 862.8 489.5 866.4 488.0 870.1 486.2 873.6 484.3 877.2 482.3 880.7 480.2 884.2 478.1 887.8 476.1 891.3 474.2 895.0 472.6 899.6 470.9 903.5 469.7 907.5 468.6 911.6 467.7 915.7 467.0 919.8 466.5 923.9 466.2 927.8 466.1 932.7 466.5 936.6 467.1 940.6 468.0 944.5 469.2 948.4 470.5 952.3 471.9 956.2 473.4 960.0 475.0 963.8 476.5 967.5 478.2 971.2 480.0 974.8 481.8 978.5 483.7 982.1 485.6 985.8 487.5 989.4 489.4 993.1 491.2 996.7 493.1 1000.4 494.9 1004.1 496.8 1007.8 498.5 1011.5 500.1 1015.4 501.3 1019.5 502.2 1023.7 502.7 1027.9 503.2 1032.0 503.7 1036.0 504.1 1040.0 504.7 1043.9 505.8 1047.7 507.3 1051.4 509.2 1055.1 511.2 1058.8 513.2 1062.4 515.2 1066.2 517.0 1070.0 518.6 1073.8 520.1 1077.7 521.5 1081.5 523.0 1085.4 524.4 1089.3 525.8 1093.1 527.2 1097.0 528.6 1100.7 530.0 1104.5 531.4 1108.2 532.8 1112.0 534.3 1115.7 535.7 1119.5 537.1 1123.2 538.5 1127.0 539.9 1130.8 541.3 1134.6 542.9 1138.4 544.6 1142.2 546.3 1146.0 547.9 1149.8 549.3 1153.7 550.4 1157.7 551.2 1161.8 551.4 1166.0 551.4 1169.9 552.3 1173.6 554.1 1177.2 556.2 1181.0 557.9 1185.0 559.1 1188.8 560.5 1192.1 562.7 1195.3 565.3 1198.5 567.6 1202.0 569.6 1205.7 571.3 1209.4 572.9 1213.2 574.3 1217.0 575.7 1220.8 577.0 1224.7 578.3 1228.7 579.5 1232.7 580.5 1236.7 581.5 1240.8 582.4 1244.8 583.1 1248.9 583.6 1253.0 584.0 1257.1 584.3 1261.2 584.6 1265.3 585.1 1269.3 585.8 1273.3 586.9 1277.1 588.1 1281.0 589.6 1284.8 591.1 1288.5 592.8 1292.2 594.5 1295.7 596.4 1299.2 598.5 1302.7 600.5 1306.3 602.4 1310.0 603.9 1313.7 605.3 1317.6 606.5 1321.5 607.6 1325.4 608.6 1329.2 609.6 1333.2 610.4 1337.1 611.1 1341.1 611.7 1345.1 612.4 1349.0 613.0 1352.0 613.5" stroke="#008000"/>
<path d="M189.0 125.0 189.5 129.0 190.1 133.0 190.6 137.0 191.1 141.0 191.7 145.0 192.2 149.0 192.8 153.0 193.3 157.0 193.8 161.0 194.4 165.0 194.9 169.0 195.4 173.0 196.0 177.0 196.5 181.0 197.0 185.0 197.5 189.0 198.0 193.0 198.5 197.0 199.0 201.0 199.5 205.0 200.0 209.0 200.4 213.0 200.8 217.0 201.2 221.0 201.6 225.0 202.0 229.0 202.4 233.0 202.8 237.0 203.1 241.0 203.5 245.0 203.9 249.0 204.2 253.0 204.5 257.0 204.9 261.0 205.2 265.0 205.5 269.0 205.9 273.1 206.2 277.1 206.5 281.1 206.9 285.1 207.2 289.1 207.5 293.1 207.9 297.1 208.2 301.1 208.6 305.1 208.9 309.1 209.3 313.1 209.7 317.1 210.1 321.1 210.5 325.1 210.9 329.1 211.3 333.1 211.8 337.1 212.2 341.1 212.7 345.1 213.2 349.1 213.7 353.1 214.2 357.0 214.8 361.0 215.4 365.0 215.9 369.0 216.5 372.9 217.1 376.9 217.8 380.8 218.4 384.8 219.0 388.7 219.7 392.7 220.3 396.6 221.0 400.6 221.7 404.5 222.3 408.5 223.0 412.4 223.7 416.4 224.4 420.3 225.1 424.3 225.8 428.2 226.5 432.1 227.3 436.1 228.0 440.0 228.7 443.9 229.4 447.9 230.1 451.9 230.8 455.8 231.5 459.8 232.2 463.7 232.9 467.7 233.7 471.6 234.4 475.6 235.2 479.5 236.0 483.4 236.9 487.4 237.8 491.3 238.7 495.2 239.7 499.0 240.8 503.0 242.0 507.0 243.2 511.1 244.4 515.1 245.8 519.0 247.2 522.8 248.8 526.5 250.5 530.2 252.3 533.8 254.2 537.4 256.2 541.0 258.1 544.6 260.0 548.1 261.9 551.8 263.7 555.4 265.3 559.1 266.8 562.9 268.3 566.7 269.7 570.5 271.1 574.3 272.6 578.1 274.2 581.8 275.8 585.5 277.5 589.1 279.3 592.8 281.1 596.4 282.9 600.0 284.7 603.6 286.6 607.3 288.4 611.0 290.3 614.6 292.2 618.2 294.3 621.8 296.4 625.4 298.4 629.1 300.4 632.7 302.6 637.1 304.2 640.7 305.8 644.3 307.4 648.1 308.9 652.0 310.5 655.9 312.2 659.7 314.1 663.3 316.3 666.8 318.8 670.0 321.8 673.0 325.1 676.0 328.2 678.9 331.3 681.7 334.6 684.5 338.2 687.1 342.1 689.3 346.2 691.0 350.1 692.2 353.9 692.9 358.1 693.1 362.6 692.8 367.0 691.8 371.0 690.5 374.8 688.7 378.2 686.7 381.4 684.2 384.5 681.6 387.9 678.6 391.1 675.6 394.0 672.5 396.8 669.2 399.5 665.9 402.2 662.5 404.7 659.1 406.9 655.8 409.2 652.5 411.6 649.2 414.2 646.0 416.9 642.8 419.7 639.4 422.5 635.8 425.3 632.2 428.0 628.5 430.4 624.9 432.9 621.4 435.3 617.9 437.6 614.3 439.8 610.7 442.1 607.3 444.6 603.9 447.5 600.6 450.6 597.5 453.6 594.7 456.5 591.9 460.0 588.7 463.4 585.8 466.9 583.2 471.0 580.6 475.2 578.4 479.1 576.6 482.9 575.0 486.8 573.5 490.7 572.0 494.5 570.5 498.3 568.9 502.2 567.3 506.1 565.8 510.0 564.3 513.8 562.9 517.6 561.6 521.4 560.6 525.6 559.8 530.0 559.0 534.1 558.3 538.1 557.5 542.0 556.9 546.1 556.5 550.2 556.2 554.3 556.0 558.3 555.7 562.3 555.2 566.4 554.4 570.5 553.3 574.7 552.1 578.8 551.0 582.9 550.0 587.0 549.0 591.1 548.4 595.1 548.2 599.5 548.6 604.0 549.3 608.1 550.2 612.1 551.1 616.1 552.0 620.2 552.9 624.2 553.9 628.2 554.9 632.0 555.9 636.0 556.9 639.9 557.9 643.8 558.9 647.7 559.9 651.6 560.9 655.5 561.8 659.5 562.7 663.5 563.5 667.5 564.3 671.5 565.1 675.6 565.8 679.6 566.5 683.6 567.1 687.7 567.8 691.7 568.3 695.7 568.9 699.7 569.4 703.8 569.9 707.8 570.3 711.8 570.7 715.9 571.1 719.9 571.4 724.0 571.7 728.0 571.9 732.0 572.1 736.0 572.1 740.1 572.2 744.1 572.2 748.1 572.2 752.1 572.1 756.1 572.1 760.2 572.0 764.3 572.0 768.4 571.9 772.5 571.9 776.6 571.8 780.8 571.7 784.9 571.6 789.0 571.4 793.1 571.2 797.2 570.9 801.3 570.6 805.4 570.2 809.5 569.8 813.6 569.3 817.7 568.8 821.8 568.2 825.8 567.6 829.9 567.1 833.9 566.4 837.9 565.8 842.0 565.1 846.0 564.3 850.0 563.5 854.0 562.5 857.9 561.5 861.7 560.3 865.5 558.9 869.3 557.4 873.0 555.6 876.6 553.7 880.2 551.6 883.9 549.6 887.5 547.6 891.2 545.8 894.9 544.3 898.7 543.0 902.6 541.9 906.5 541.0 910.6 540.2 914.6 539.6 918.7 539.2 922.8 538.9 926.8 538.9 930.8 539.0 934.8 539.4 938.9 540.0 942.9 540.8 947.0 541.8 951.0 542.9 955.0 544.1 959.0 545.4 962.9 546.7 966.6 548.1 970.3 549.6 974.0 551.3 977.7 553.0 981.4 554.8 985.0 556.6 988.6 558.5 992.1 560.4 995.7 562.4 999.2 564.6 1002.8 566.9 1006.3 569.2 1009.8 571.3 1013.5 573.1 1017.4 574.2 1021.6 574.9 1025.8 575.4 1030.0 575.8 1034.0 576.1 1038.0 576.5 1042.0 577.2 1045.8 578.5 1049.6 580.2 1053.3 582.1 1056.9 584.1 1060.6 586.1 1064.3 587.9 1068.1 589.5 1071.9 590.9 1075.7 592.3 1079.6 593.7 1083.4 595.0 1087.3 596.3 1091.2 597.6 1095.1 598.9 1098.9 600.1 1102.8 601.4 1106.6 602.6 1110.5 603.9 1114.4 605.1 1118.3 606.3 1122.1 607.6 1126.0 608.8 1129.8 610.2 1133.6 611.7 1137.3 613.4 1141.1 615.1 1144.8 616.7 1148.6 618.2 1152.4 619.4 1157.3 620.3 1161.3 620.4 1165.4 620.2 1170.3 621.0 1173.8 622.8 1177.3 625.0 1181.0 626.6 1184.9 627.5 1188.8 628.7 1192.5 631.0 1195.9 633.7 1199.4 635.9 1203.0 637.8 1206.8 639.5 1210.6 641.0 1214.4 642.4 1218.3 643.6 1222.2 644.7 1226.2 645.7 1230.2 646.4 1234.2 646.9 1238.3 647.3 1242.4 647.7 1246.5 648.0 1250.6 648.4 1254.6 648.9 1258.7 649.5 1262.7 650.0 1266.8 650.6 1270.8 651.3 1274.7 652.2 1278.6 653.4 1282.5 654.9 1286.3 656.5 1290.1 658.2 1293.9 659.9 1297.8 661.4 1301.7 662.9 1305.6 664.3 1309.5 665.6 1313.5 666.8 1317.4 667.7 1321.4 668.4 1325.3 669.1 1329.3 669.9 1333.2 670.6 1337.2 671.3 1341.1 672.0 1345.1 672.7 1349.0 673.4 1352.0 673.9" stroke="#808000"/>
<path d="M189.0 136.0 189.6 140.0 190.2 144.0 190.7 148.0 191.3 152.0 191.9 156.0 192.5 160.0 193.1 164.0 193.7 168.0 194.3 172.0 194.9 176.0 195.4 180.0 196.0 184.0 196.6 188.0 197.1 192.0 197.7 196.0 198.2 200.0 198.7 204.0 199.2 208.0 199.7 212.0 200.1 216.0 200.6 220.0 201.0 224.0 201.4 228.0 201.8 232.0 202.2 236.0 202.6 240.0 202.9 244.0 203.3 248.0 203.6 252.0 204.0 256.0 204.3 260.0 204.6 264.0 205.0 268.0 205.3 272.0 205.6 276.0 205.9 280.1 206.3 284.1 206.6 288.1 206.9 292.1 207.3 296.1 207.6 300.1 207.9 304.1 208.3 308.1 208.7 312.1 209.0 316.1 209.4 320.1 209.8 324.1 210.2 328.1 210.6 332.1 211.1 336.1 211.5 340.1 212.0 344.1 212.5 348.1 213.0 352.1 213.6 356.1 214.1 360.0 214.7 364.0 215.3 368.0 215.9 371.9 216.5 375.9 217.2 379.8 217.8 383.8 218.5 387.8 219.2 391.7 219.9 395.7 220.6 399.6 221.3 403.5 222.0 407.5 222.7 411.4 223.4 415.4 224.1 419.3 224.9 423.3 225.6 427.2 226.3 431.1 227.1 435.1 227.8 439.0 228.6 443.0 229.3 446.9 230.0 450.9 230.7 454.8 231.4 458.8 232.1 462.7 232.8 466.7 233.5 470.6 234.2 474.6 235.0 478.5 235.8 482.5 236.7 486.4 237.5 490.3 238.5 494.2 239.5 498.1 240.6 501.9 241.7 506.0 242.9 510.0 244.1 514.0 245.4 518.1 246.7 522.0 248.0 525.7 249.3 529.5 250.7 533.3 252.0 537.1 253.2 541.0 254.5 545.0 255.7 549.0 256.9 553.0 258.1 557.0 259.4 561.0 260.8 564.8 262.2 568.7 263.7 572.5 265.4 576.3 267.1 579.9 269.1 583.5 271.2 587.0 273.4 590.5 275.7 593.9 277.8 597.4 279.9 601.0 281.7 604.6 283.5 608.2 285.3 611.9 287.1 615.4 289.0 619.0 291.2 622.6 293.5 626.3 295.8 630.1 297.7 633.6 299.9 638.0 301.5 641.6 303.2 645.2 304.9 649.0 306.7 652.9 308.5 656.8 310.3 660.6 312.1 664.5 313.9 668.4 315.7 672.2 317.6 676.0 319.8 679.6 322.4 683.0 325.2 686.2 327.9 689.2 330.6 692.3 333.5 695.6 336.6 699.0 339.6 702.1 342.6 705.0 345.8 707.6 349.2 709.9 353.1 711.9 357.1 713.4 361.0 714.4 365.4 714.9 369.9 715.0 374.0 714.7 377.8 714.2 381.7 713.2 385.6 711.6 389.9 709.5 393.9 707.2 397.3 705.0 400.4 702.5 403.6 699.4 406.6 696.5 409.7 693.8 413.0 691.3 416.2 688.7 419.4 686.1 422.5 683.4 425.5 680.7 428.5 678.0 431.5 675.2 434.4 672.4 437.4 669.7 440.4 666.9 443.5 664.2 446.8 661.5 450.1 658.9 453.4 656.5 456.8 654.3 460.2 652.2 464.0 649.9 467.8 647.6 471.6 645.4 475.3 643.3 479.1 641.3 482.7 639.5 486.4 637.9 490.1 636.5 494.1 635.0 498.3 633.6 502.4 632.1 506.3 630.4 510.2 628.8 514.0 627.2 517.8 625.6 521.6 624.2 525.5 623.0 529.5 621.9 533.6 621.0 537.8 620.3 541.9 619.6 546.0 619.1 550.0 618.7 554.1 618.3 558.1 617.9 562.2 617.3 566.3 616.6 570.4 615.8 574.5 615.0 578.6 614.1 582.7 613.2 586.8 612.4 590.9 611.7 595.0 611.5 599.8 611.8 603.7 612.5 607.6 613.5 611.6 614.5 615.5 615.4 619.4 616.4 623.3 617.4 627.3 618.4 631.2 619.4 635.1 620.4 639.0 621.5 642.9 622.5 646.8 623.5 650.7 624.6 654.6 625.6 658.5 626.7 662.4 627.7 666.3 628.7 670.2 629.8 674.1 630.8 678.0 631.8 681.9 632.7 685.8 633.6 689.7 634.5 693.7 635.4 697.7 636.2 701.7 637.0 705.8 637.7 709.8 638.4 713.9 639.1 717.9 639.7 722.0 640.4 726.0 641.0 730.0 641.7 734.0 642.4 738.0 643.0 742.1 643.7 746.1 644.3 750.1 644.9 754.1 645.5 758.2 646.0 762.2 646.5 766.3 646.9 770.4 647.4 774.6 647.8 778.7 648.1 782.8 648.4 786.9 648.8 791.0 649.1 795.1 649.4 799.2 649.7 803.3 650.0 807.4 650.2 811.5 650.5 815.6 650.6 819.8 650.7 823.8 650.6 827.8 650.6 831.9 650.4 835.9 650.3 840.0 650.0 844.0 649.6 848.0 649.1 851.9 648.4 856.8 647.3 860.6 646.2 864.4 644.8 868.1 643.3 871.9 641.7 875.7 640.2 879.4 638.7 883.2 637.4 888.0 636.1 891.9 635.3 895.9 634.7 899.9 634.2 903.9 633.8 908.0 633.5 912.0 633.3 916.0 633.1 920.1 633.0 924.6 632.9 929.0 633.1 933.0 633.7 936.8 634.5 940.7 635.7 944.5 637.0 948.3 638.4 952.3 639.9 956.2 641.5 960.0 643.2 963.8 645.0 967.6 646.8 971.3 648.7 975.0 650.6 978.7 652.6 982.4 654.6 986.0 656.7 989.5 658.6 993.0 660.7 996.4 662.6 999.9 664.6 1003.5 666.5 1007.3 668.3 1011.1 670.1 1015.0 671.7 1018.9 673.1 1022.9 674.1 1026.9 674.6 1030.9 674.8 1034.9 675.1 1039.9 675.9 1044.6 677.5 1048.3 679.1 1051.9 680.8 1055.5 682.7 1059.1 684.5 1062.8 686.2 1066.5 687.7 1070.2 689.2 1073.9 690.7 1077.7 692.1 1081.4 693.6 1085.2 694.9 1089.0 696.2 1092.8 697.5 1096.6 698.7 1100.5 699.8 1104.4 700.9 1108.3 701.9 1112.2 702.9 1116.1 703.9 1120.0 705.0 1123.8 706.0 1127.7 707.2 1131.6 708.4 1135.4 709.6 1139.3 710.8 1143.2 711.9 1147.1 712.8 1151.0 713.5 1155.0 713.9 1159.0 714.1 1163.1 714.4 1168.0 715.3 1172.1 716.5 1176.0 718.0 1180.0 719.6 1184.0 721.1 1187.9 722.8 1191.3 725.0 1194.4 727.7 1197.7 730.0 1201.4 731.7 1205.3 732.8 1209.5 733.5 1213.7 733.9 1217.9 734.3 1222.1 734.8 1226.2 735.4 1230.3 736.1 1234.3 736.8 1238.4 737.4 1242.4 738.0 1246.5 738.6 1250.6 739.1 1254.6 739.6 1258.7 740.0 1262.8 740.3 1266.9 740.5 1271.0 740.8 1275.1 741.1 1279.1 741.7 1283.1 742.5 1287.0 743.7 1290.8 745.1 1294.6 746.8 1298.4 748.4 1302.3 749.8 1306.2 750.8 1310.1 751.6 1314.2 752.1 1318.2 752.6 1322.3 752.9 1326.3 753.4 1330.4 753.9 1334.5 754.4 1338.6 754.9 1342.7 755.4 1346.9 755.9 1351.0 756.4 1352.0 756.5" stroke="#000080"/>
<path d="M189.0 147.0 189.5 151.0 190.1 155.0 190.6 159.0 191.1 163.0 191.7 167.0 192.2 171.0 192.7 175.0 193.3 179.0 193.8 183.0 194.3 187.0 194.8 191.0 195.4 195.0 195.9 199.0 196.4 203.0 196.9 206.9 197.3 210.9 197.8 214.9 198.3 218.9 198.7 222.9 199.1 226.8 199.6 230.8 200.0 234.8 200.4 238.8 200.8 242.8 201.2 246.7 201.6 250.7 202.0 254.7 202.4 258.7 202.8 262.7 203.2 266.7 203.6 270.7 203.9 274.6 204.3 278.6 204.7 282.6 205.1 286.6 205.5 290.6 205.9 294.6 206.3 298.6 206.7 302.5 207.2 306.5 207.6 310.5 208.0 314.5 208.5 318.4 209.0 322.4 209.4 326.4 209.9 330.4 210.4 334.3 211.1 339.3 211.7 344.2 212.4 349.2 213.1 354.1 213.9 359.1 214.7 364.0 215.3 368.0 216.0 371.9 216.7 375.9 217.4 379.8 218.1 383.8 218.8 387.7 219.5 391.7 220.2 395.6 221.0 399.6 221.7 403.5 222.5 407.5 223.2 411.4 224.0 415.4 224.8 419.3 225.5 423.3 226.3 427.2 227.1 431.1 227.8 435.1 228.6 439.0 229.4 443.0 230.1 446.9 230.8 450.8 231.6 454.8 232.3 458.7 233.0 462.7 233.7 466.6 234.5 470.6 235.2 474.5 236.0 478.5 236.8 482.4 237.6 486.3 238.5 490.2 239.4 494.2 240.3 498.0 241.3 502.0 242.3 506.0 243.3 510.0 244.5 514.1 245.7 518.0 247.0 521.9 248.5 525.7 250.1 529.5 251.7 533.3 253.3 537.1 254.7 541.0 256.0 545.0 257.1 549.0 258.3 553.0 259.4 557.0 260.7 561.0 262.1 564.8 263.6 568.6 265.2 572.5 266.9 576.2 268.6 580.0 270.3 583.7 272.1 587.3 273.9 590.9 275.8 594.5 277.6 598.2 279.3 601.9 280.9 605.7 282.5 609.5 284.2 613.4 285.8 617.2 287.5 620.9 289.2 624.5 291.0 628.1 292.7 631.7 294.9 636.2 296.5 639.8 298.2 643.4 299.9 647.1 301.7 651.0 303.5 654.8 305.3 658.7 307.1 662.6 308.9 666.4 310.7 670.3 312.5 674.1 314.4 677.9 316.4 681.6 318.4 685.2 320.6 688.8 323.0 692.5 325.4 696.0 328.0 699.6 330.7 703.1 333.4 706.5 336.0 709.6 338.8 712.6 341.7 715.6 344.8 718.4 348.2 721.2 352.0 723.8 356.2 726.2 360.3 728.2 364.2 729.8 368.0 730.9 372.0 731.7 375.9 732.3 379.9 732.6 383.9 732.6 387.8 732.3 391.9 731.7 396.0 730.8 399.8 729.5 403.5 727.8 407.1 725.7 410.7 723.5 414.2 721.2 417.7 719.0 421.2 716.8 424.7 714.7 428.3 712.6 431.9 710.5 435.6 708.6 439.1 706.8 442.7 705.1 446.3 703.4 450.0 701.7 453.7 700.0 457.4 698.3 461.2 696.5 464.9 694.8 468.6 693.2 472.4 691.6 476.2 690.0 480.0 688.6 483.9 687.2 487.7 685.9 491.6 684.6 495.5 683.4 499.4 682.1 503.3 680.9 507.1 679.6 511.0 678.3 514.8 677.1 518.7 675.8 522.6 674.6 526.5 673.5 530.3 672.3 534.2 671.3 538.0 670.2 541.9 669.2 545.8 668.2 549.8 667.2 553.9 666.2 557.9 665.1 562.0 664.1 566.0 663.1 570.0 661.9 573.8 660.6 577.7 659.3 581.6 657.9 585.5 656.7 589.4 655.7 593.3 655.0 597.4 654.5 601.4 654.2 605.4 654.1 609.4 654.2 613.5 654.4 617.6 654.7 621.7 655.1 625.8 655.6 629.8 656.2 633.9 656.9 638.0 657.6 642.0 658.3 645.9 659.1 649.9 659.9 653.8 660.7 657.8 661.5 661.7 662.4 665.7 663.2 669.6 664.0 673.6 664.8 677.6 665.7 681.6 666.6 685.7 667.5 689.7 668.5 693.7 669.5 697.8 670.4 701.8 671.3 705.8 672.2 709.8 673.0 713.8 673.7 717.8 674.4 721.8 675.1 725.8 675.8 729.8 676.5 733.9 677.2 737.9 677.8 741.9 678.5 745.9 679.2 749.9 679.9 753.9 680.6 757.9 681.3 761.9 682.0 765.9 682.7 770.0 683.3 774.0 684.0 778.0 684.7 782.0 685.3 786.0 685.9 790.0 686.6 794.0 687.2 798.0 687.7 802.0 688.2 806.1 688.8 810.1 689.3 814.2 689.7 818.3 690.1 822.4 690.4 826.4 690.7 830.5 690.8 834.5 690.8 839.5 690.5 843.5 690.2 847.4 689.7 851.4 689.2 855.4 688.6 859.4 687.9 863.4 687.2 867.4 686.5 871.3 685.8 875.3 685.2 879.3 684.5 883.3 683.8 887.2 683.0 891.2 682.2 895.2 681.4 899.2 680.6 903.1 679.9 907.1 679.3 911.1 678.8 915.0 678.4 918.9 678.2 923.4 678.1 927.9 678.3 932.1 678.7 936.2 679.3 940.3 680.2 944.4 681.3 948.4 682.6 952.3 683.9 956.3 685.3 960.2 686.9 963.9 688.7 967.5 690.7 970.9 692.9 974.3 695.2 977.6 697.6 981.0 700.0 984.4 702.4 987.9 704.7 991.4 706.9 995.0 708.9 998.5 710.7 1002.1 712.5 1005.9 714.0 1009.6 715.4 1014.4 716.8 1018.5 717.6 1022.6 718.2 1026.9 718.6 1031.1 718.9 1035.4 718.9 1039.7 719.1 1043.8 719.7 1047.7 720.9 1051.5 722.5 1055.2 724.3 1058.9 726.1 1062.7 727.7 1066.6 729.1 1070.4 730.5 1074.3 731.8 1078.2 733.1 1082.0 734.3 1085.9 735.5 1089.9 736.7 1093.8 737.8 1097.8 738.8 1101.8 739.8 1105.8 740.7 1109.8 741.6 1113.8 742.4 1117.9 743.2 1121.9 744.1 1125.9 744.9 1129.9 745.7 1134.0 746.4 1138.0 747.2 1142.0 748.0 1146.0 748.8 1150.0 749.7 1154.3 750.9 1158.6 752.0 1162.8 751.5 1167.0 750.6 1171.0 751.1 1175.0 752.4 1179.0 753.9 1183.0 755.1 1186.9 756.4 1190.6 758.2 1194.1 760.8 1197.7 763.1 1201.5 764.6 1205.4 765.6 1209.5 766.2 1213.7 766.5 1218.0 766.8 1222.1 767.2 1226.2 767.8 1230.3 768.5 1234.3 769.1 1238.4 769.8 1242.4 770.4 1246.5 771.0 1250.5 771.5 1254.6 772.0 1258.7 772.4 1262.8 772.7 1266.8 773.0 1270.9 773.3 1275.0 773.6 1279.1 774.0 1283.1 774.6 1287.1 775.3 1291.1 776.2 1295.1 777.2 1299.2 778.1 1303.2 779.0 1307.2 779.6 1311.2 780.1 1315.2 780.5 1319.2 780.8 1323.3 781.1 1327.3 781.5 1331.4 781.9 1335.5 782.3 1339.6 782.6 1343.8 783.0 1347.9 783.3 1352.0 783.7" stroke="#910080"/>
</g>
<g class="t" font-size="52">
<text x="149" y="50.8" text-anchor="end">1.0</text>
<text x="149" y="217.5" text-anchor="end">0.8</text>
<text x="149" y="384.4" text-anchor="end">0.6</text>
<text x="149" y="551.1" text-anchor="end">0.4</text>
<text x="149" y="717.8" text-anchor="end">0.2</text>
<text x="149" y="884.3" text-anchor="end">0.0</text>
<text x="250.5" y="952" text-anchor="middle">400</text>
<text x="407.5" y="952" text-anchor="middle">600</text>
<text x="564.5" y="952" text-anchor="middle">800</text>
<text x="721.5" y="952" text-anchor="middle">1000</text>
<text x="878.0" y="952" text-anchor="middle">1200</text>
<text x="1034.5" y="952" text-anchor="middle">1400</text>
<text x="1191.5" y="952" text-anchor="middle">1600</text>
<text x="1348.0" y="952" text-anchor="middle">1800</text>
<text x="768" y="1024" text-anchor="middle" letter-spacing="0.3">Wavelength / nm</text>
<text transform="translate(59 452) rotate(-90)" text-anchor="middle" letter-spacing="0.25">Absorbance / a.u.</text>
</g>
<g stroke-width="3">
<rect x="1366.5" y="145.5" width="232" height="653" fill="none" stroke="#000" stroke-width="3"/>
<line x1="1388" y1="189.5" x2="1472" y2="189.5" stroke="#000000"/>
<text class="t" font-size="36" x="1490" y="202.0">0V</text>
<line x1="1388" y1="236.5" x2="1472" y2="236.5" stroke="#ff0000"/>
<text class="t" font-size="36" x="1490" y="249.0">0.4V</text>
<line x1="1388" y1="283.5" x2="1472" y2="283.5" stroke="#00ff00"/>
<text class="t" font-size="36" x="1490" y="296.0">0.6V</text>
<line x1="1388" y1="330.5" x2="1472" y2="330.5" stroke="#ffff00"/>
<text class="t" font-size="36" x="1490" y="343.0">0.7V</text>
<line x1="1388" y1="377.5" x2="1472" y2="377.5" stroke="#0000ff"/>
<text class="t" font-size="36" x="1490" y="390.0">0.8V</text>
<line x1="1388" y1="424.5" x2="1472" y2="424.5" stroke="#ff00ff"/>
<text class="t" font-size="36" x="1490" y="437.0">0.9V</text>
<line x1="1388" y1="471.5" x2="1472" y2="471.5" stroke="#00ffff"/>
<text class="t" font-size="36" x="1490" y="484.0">1.0V</text>
<line x1="1388" y1="518.5" x2="1472" y2="518.5" stroke="#d2d2d2"/>
<text class="t" font-size="36" x="1490" y="531.0">1.1V</text>
<line x1="1388" y1="565.5" x2="1472" y2="565.5" stroke="#940000"/>
<text class="t" font-size="36" x="1490" y="578.0">1.2V</text>
<line x1="1388" y1="612.5" x2="1472" y2="612.5" stroke="#008000"/>
<text class="t" font-size="36" x="1490" y="625.0">1.3V</text>
<line x1="1388" y1="659.5" x2="1472" y2="659.5" stroke="#808000"/>
<text class="t" font-size="36" x="1490" y="672.0">1.4V</text>
<line x1="1388" y1="707.5" x2="1472" y2="707.5" stroke="#000080"/>
<text class="t" font-size="36" x="1490" y="720.0">1.5V</text>
<line x1="1388" y1="754.5" x2="1472" y2="754.5" stroke="#910080"/>
<text class="t" font-size="36" x="1490" y="767.0">1.6V</text>
</g>
<g font-family="'Liberation Serif',serif" font-size="86" fill="#000">
<text transform="translate(759.4 1138) scale(0.91 1)">(</text>
<text transform="translate(787.2 1138) scale(0.94 1)" font-weight="bold">c</text>
<text transform="translate(823 1138) scale(0.91 1)">)</text>
</g>
</svg>
</body></html>
